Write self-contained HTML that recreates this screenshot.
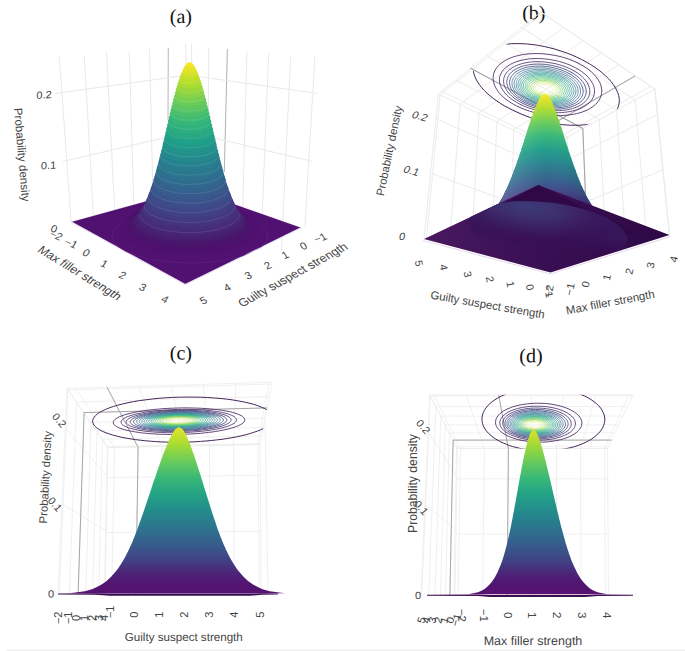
<!DOCTYPE html>
<html><head><meta charset="utf-8"><style>html,body{margin:0;padding:0;background:#fff}svg{display:block}</style></head><body>
<svg width="685" height="651" viewBox="0 0 685 651">
<rect width="685" height="651" fill="#fff"/>
<text transform="translate(180.9,22.9) rotate(0.04)" font-family="Liberation Serif" font-size="20" text-anchor="middle" fill="#111" >(a)</text>
<line x1="59.3" y1="55.8" x2="71.1" y2="222.0" stroke="#e9e9e9" stroke-width="1" />
<line x1="84.3" y1="55.8" x2="93.4" y2="216.0" stroke="#e9e9e9" stroke-width="1" />
<line x1="106.5" y1="52.0" x2="114.7" y2="210.0" stroke="#e9e9e9" stroke-width="1" />
<line x1="129.3" y1="52.0" x2="133.8" y2="204.6" stroke="#e9e9e9" stroke-width="1" />
<line x1="149.5" y1="48.0" x2="153.0" y2="200.0" stroke="#e9e9e9" stroke-width="1" />
<line x1="185.6" y1="44.0" x2="190.0" y2="190.0" stroke="#e9e9e9" stroke-width="1" />
<line x1="191.5" y1="44.0" x2="193.0" y2="190.0" stroke="#e9e9e9" stroke-width="1" />
<line x1="208.6" y1="47.8" x2="208.3" y2="196.0" stroke="#e9e9e9" stroke-width="1" />
<line x1="247.0" y1="51.7" x2="241.5" y2="250.0" stroke="#e9e9e9" stroke-width="1" />
<line x1="268.7" y1="53.0" x2="260.7" y2="250.0" stroke="#e9e9e9" stroke-width="1" />
<line x1="290.6" y1="56.2" x2="281.5" y2="250.0" stroke="#e9e9e9" stroke-width="1" />
<line x1="314.9" y1="57.0" x2="304.8" y2="227.0" stroke="#e9e9e9" stroke-width="1" />
<line x1="168.3" y1="47.8" x2="168.0" y2="120.0" stroke="#b8b8b8" stroke-width="1" />
<line x1="227.4" y1="49.0" x2="224.3" y2="172.0" stroke="#b0b0b0" stroke-width="1" />
<line x1="55.2" y1="93.5" x2="188.0" y2="75.0" stroke="#e9e9e9" stroke-width="1" />
<line x1="188.0" y1="75.0" x2="317.5" y2="93.5" stroke="#e9e9e9" stroke-width="1" />
<line x1="63.0" y1="161.4" x2="189.0" y2="132.0" stroke="#e9e9e9" stroke-width="1" />
<line x1="189.0" y1="132.0" x2="312.3" y2="161.4" stroke="#e9e9e9" stroke-width="1" />
<line x1="71.4" y1="222.0" x2="191.0" y2="189.0" stroke="#e6d8ec" stroke-width="1" />
<line x1="191.0" y1="189.0" x2="301.0" y2="227.8" stroke="#e6d8ec" stroke-width="1" />
<polygon points="71.4,222.0 191.0,189.0 301.0,227.8 185.2,284.6" fill="#501171" />
<path d="M71.4,222 L185.2,284.6 L301,227.8" fill="none" stroke="#eadff0" stroke-width="1.2"/>
<clipPath id="cfa"><polygon points="71.4,222 191,189 301,227.8 185.2,284.6"/></clipPath>
<ellipse cx="190" cy="236" rx="78" ry="27" fill="none" stroke="#5a1c7c" stroke-width="1" clip-path="url(#cfa)"/>
<ellipse cx="189.6" cy="229.0" rx="69.3" ry="25.6" fill="#501171"/>
<ellipse cx="189.6" cy="228.7" rx="68.4" ry="25.3" fill="#501171"/>
<ellipse cx="189.6" cy="228.5" rx="67.6" ry="24.9" fill="#4f1170"/>
<ellipse cx="189.6" cy="228.2" rx="66.7" ry="24.6" fill="#4f1170"/>
<ellipse cx="189.6" cy="227.9" rx="65.8" ry="24.3" fill="#4f116f"/>
<ellipse cx="189.6" cy="227.5" rx="65.0" ry="24.0" fill="#4e116e"/>
<ellipse cx="189.6" cy="227.2" rx="64.1" ry="23.7" fill="#4e116e"/>
<ellipse cx="189.6" cy="226.8" rx="63.2" ry="23.3" fill="#4d116d"/>
<ellipse cx="189.6" cy="226.3" rx="62.4" ry="23.0" fill="#4d126d"/>
<ellipse cx="189.6" cy="225.8" rx="61.5" ry="22.7" fill="#4c126d"/>
<ellipse cx="189.6" cy="225.3" rx="60.6" ry="22.4" fill="#4c136c"/>
<ellipse cx="189.6" cy="224.7" rx="59.8" ry="22.1" fill="#4b136c"/>
<ellipse cx="189.6" cy="224.1" rx="58.9" ry="21.7" fill="#4a146c"/>
<ellipse cx="189.6" cy="223.4" rx="58.0" ry="21.4" fill="#4a166c"/>
<ellipse cx="189.6" cy="222.7" rx="57.2" ry="21.1" fill="#49176c"/>
<ellipse cx="189.6" cy="221.9" rx="56.3" ry="20.8" fill="#481a6d"/>
<ellipse cx="189.6" cy="221.1" rx="55.4" ry="20.5" fill="#471c6e"/>
<ellipse cx="189.6" cy="220.2" rx="54.6" ry="20.1" fill="#471f6f"/>
<ellipse cx="189.6" cy="219.2" rx="53.7" ry="19.8" fill="#472071"/>
<ellipse cx="189.6" cy="218.1" rx="52.8" ry="19.5" fill="#472273"/>
<ellipse cx="189.6" cy="217.0" rx="52.0" ry="19.2" fill="#482575"/>
<ellipse cx="189.6" cy="215.8" rx="51.1" ry="18.9" fill="#482777"/>
<ellipse cx="189.6" cy="214.5" rx="50.2" ry="18.5" fill="#482979"/>
<ellipse cx="189.6" cy="213.2" rx="49.4" ry="18.2" fill="#472c7a"/>
<ellipse cx="189.6" cy="211.7" rx="48.5" ry="17.9" fill="#462e7b"/>
<ellipse cx="189.6" cy="210.2" rx="47.6" ry="17.6" fill="#45317c"/>
<ellipse cx="189.6" cy="208.5" rx="46.8" ry="17.3" fill="#45337e"/>
<ellipse cx="189.6" cy="206.8" rx="45.9" ry="16.9" fill="#44367f"/>
<ellipse cx="189.6" cy="205.0" rx="45.0" ry="16.6" fill="#433981"/>
<ellipse cx="189.6" cy="203.1" rx="44.2" ry="16.3" fill="#423d82"/>
<ellipse cx="189.6" cy="201.1" rx="43.3" ry="16.0" fill="#414084"/>
<ellipse cx="189.6" cy="198.9" rx="42.4" ry="15.7" fill="#404486"/>
<ellipse cx="189.6" cy="196.7" rx="41.6" ry="15.3" fill="#3f4788"/>
<ellipse cx="189.6" cy="194.4" rx="40.7" ry="15.0" fill="#3d4b89"/>
<ellipse cx="189.6" cy="192.0" rx="39.8" ry="14.7" fill="#3c4f8a"/>
<ellipse cx="189.6" cy="189.4" rx="39.0" ry="14.4" fill="#3a538a"/>
<ellipse cx="189.6" cy="186.8" rx="38.1" ry="14.1" fill="#38578b"/>
<ellipse cx="189.6" cy="184.0" rx="37.2" ry="13.7" fill="#375b8c"/>
<ellipse cx="189.6" cy="181.2" rx="36.4" ry="13.4" fill="#355f8d"/>
<ellipse cx="189.6" cy="178.3" rx="35.5" ry="13.1" fill="#33648d"/>
<ellipse cx="189.6" cy="175.2" rx="34.6" ry="12.8" fill="#31688e"/>
<ellipse cx="189.6" cy="172.1" rx="33.8" ry="12.5" fill="#2f6c8e"/>
<ellipse cx="189.6" cy="168.9" rx="32.9" ry="12.1" fill="#2d718e"/>
<ellipse cx="189.6" cy="165.6" rx="32.1" ry="11.8" fill="#2b758e"/>
<ellipse cx="189.6" cy="162.2" rx="31.2" ry="11.5" fill="#2a7a8e"/>
<ellipse cx="189.6" cy="158.7" rx="30.3" ry="11.2" fill="#287e8e"/>
<ellipse cx="189.6" cy="155.2" rx="29.5" ry="10.9" fill="#26838e"/>
<ellipse cx="189.6" cy="151.6" rx="28.6" ry="10.6" fill="#24888d"/>
<ellipse cx="189.6" cy="148.0" rx="27.7" ry="10.2" fill="#238e8c"/>
<ellipse cx="189.6" cy="144.3" rx="26.9" ry="9.9" fill="#22938b"/>
<ellipse cx="189.6" cy="140.5" rx="26.0" ry="9.6" fill="#20988a"/>
<ellipse cx="189.6" cy="136.8" rx="25.1" ry="9.3" fill="#1f9e89"/>
<ellipse cx="189.6" cy="133.0" rx="24.3" ry="9.0" fill="#23a386"/>
<ellipse cx="189.6" cy="129.2" rx="23.4" ry="8.6" fill="#28a883"/>
<ellipse cx="189.6" cy="125.4" rx="22.5" ry="8.3" fill="#2cad7f"/>
<ellipse cx="189.6" cy="121.6" rx="21.7" ry="8.0" fill="#31b27c"/>
<ellipse cx="189.6" cy="117.8" rx="20.8" ry="7.7" fill="#35b779"/>
<ellipse cx="189.6" cy="114.1" rx="19.9" ry="7.4" fill="#40bb73"/>
<ellipse cx="189.6" cy="110.4" rx="19.1" ry="7.0" fill="#4bc06c"/>
<ellipse cx="189.6" cy="106.8" rx="18.2" ry="6.7" fill="#56c466"/>
<ellipse cx="189.6" cy="103.2" rx="17.3" ry="6.4" fill="#61c860"/>
<ellipse cx="189.6" cy="99.7" rx="16.5" ry="6.1" fill="#6bcc5a"/>
<ellipse cx="189.6" cy="96.3" rx="15.6" ry="5.8" fill="#78d052"/>
<ellipse cx="189.6" cy="93.0" rx="14.7" ry="5.4" fill="#84d34a"/>
<ellipse cx="189.6" cy="89.8" rx="13.9" ry="5.1" fill="#91d642"/>
<ellipse cx="189.6" cy="86.8" rx="13.0" ry="4.8" fill="#9cd83b"/>
<ellipse cx="189.6" cy="83.8" rx="12.1" ry="4.5" fill="#a8db34"/>
<ellipse cx="189.6" cy="81.1" rx="11.3" ry="4.2" fill="#b2de2d"/>
<ellipse cx="189.6" cy="78.5" rx="10.4" ry="3.8" fill="#bddf2b"/>
<ellipse cx="189.6" cy="76.0" rx="9.5" ry="3.5" fill="#c7e02a"/>
<ellipse cx="189.6" cy="73.8" rx="8.7" ry="3.2" fill="#d0e129"/>
<ellipse cx="189.6" cy="71.7" rx="7.8" ry="2.9" fill="#d8e229"/>
<ellipse cx="189.6" cy="69.8" rx="6.9" ry="2.6" fill="#e0e328"/>
<ellipse cx="189.6" cy="68.1" rx="6.1" ry="2.2" fill="#e6e427"/>
<ellipse cx="189.6" cy="66.6" rx="5.2" ry="1.9" fill="#ece527"/>
<ellipse cx="189.6" cy="65.4" rx="4.3" ry="1.6" fill="#f1e626"/>
<ellipse cx="189.6" cy="64.4" rx="3.5" ry="1.3" fill="#f6e626"/>
<ellipse cx="189.6" cy="63.5" rx="2.6" ry="1.0" fill="#f9e625"/>
<ellipse cx="189.6" cy="63.0" rx="1.7" ry="0.6" fill="#fbe725"/>
<ellipse cx="189.6" cy="62.6" rx="0.9" ry="0.3" fill="#fde725"/>
<ellipse cx="189.6" cy="62.5" rx="0.5" ry="0.3" fill="#fde725"/>
<path d="M139.6,214.2 A50.0,18.5 0 0 0 239.6,214.2" fill="none" stroke="#fff" stroke-opacity="0.13" stroke-width="0.8"/>
<path d="M144.2,205.7 A45.4,16.8 0 0 0 235.0,205.7" fill="none" stroke="#fff" stroke-opacity="0.13" stroke-width="0.8"/>
<path d="M147.8,197.3 A41.8,15.4 0 0 0 231.4,197.3" fill="none" stroke="#fff" stroke-opacity="0.13" stroke-width="0.8"/>
<path d="M150.8,188.9 A38.8,14.3 0 0 0 228.4,188.9" fill="none" stroke="#fff" stroke-opacity="0.13" stroke-width="0.8"/>
<path d="M153.4,180.4 A36.2,13.3 0 0 0 225.8,180.4" fill="none" stroke="#fff" stroke-opacity="0.13" stroke-width="0.8"/>
<path d="M155.8,172.0 A33.8,12.5 0 0 0 223.4,172.0" fill="none" stroke="#fff" stroke-opacity="0.13" stroke-width="0.8"/>
<path d="M158.1,163.6 A31.5,11.6 0 0 0 221.1,163.6" fill="none" stroke="#fff" stroke-opacity="0.13" stroke-width="0.8"/>
<path d="M160.2,155.2 A29.4,10.9 0 0 0 219.0,155.2" fill="none" stroke="#fff" stroke-opacity="0.13" stroke-width="0.8"/>
<path d="M162.2,146.8 A27.4,10.1 0 0 0 217.0,146.8" fill="none" stroke="#fff" stroke-opacity="0.13" stroke-width="0.8"/>
<path d="M164.1,138.3 A25.5,9.4 0 0 0 215.1,138.3" fill="none" stroke="#fff" stroke-opacity="0.13" stroke-width="0.8"/>
<path d="M166.0,129.9 A23.6,8.7 0 0 0 213.2,129.9" fill="none" stroke="#fff" stroke-opacity="0.13" stroke-width="0.8"/>
<path d="M168.0,121.5 A21.6,8.0 0 0 0 211.2,121.5" fill="none" stroke="#fff" stroke-opacity="0.13" stroke-width="0.8"/>
<path d="M169.9,113.0 A19.7,7.3 0 0 0 209.3,113.0" fill="none" stroke="#fff" stroke-opacity="0.13" stroke-width="0.8"/>
<path d="M171.9,104.6 A17.7,6.5 0 0 0 207.3,104.6" fill="none" stroke="#fff" stroke-opacity="0.13" stroke-width="0.8"/>
<path d="M174.0,96.2 A15.6,5.7 0 0 0 205.2,96.2" fill="none" stroke="#fff" stroke-opacity="0.13" stroke-width="0.8"/>
<path d="M176.3,87.8 A13.3,4.9 0 0 0 202.9,87.8" fill="none" stroke="#fff" stroke-opacity="0.13" stroke-width="0.8"/>
<path d="M178.9,79.3 A10.7,3.9 0 0 0 200.3,79.3" fill="none" stroke="#fff" stroke-opacity="0.13" stroke-width="0.8"/>
<path d="M182.1,70.9 A7.5,2.8 0 0 0 197.1,70.9" fill="none" stroke="#fff" stroke-opacity="0.13" stroke-width="0.8"/>
<text transform="translate(44.0,98.5) rotate(-4) skewX(-6) scale(1.05,1)" font-family="Liberation Sans" font-size="10.5" text-anchor="middle" fill="#444" >0.2</text>
<text transform="translate(48.5,169.0) rotate(-4) skewX(-6) scale(1.05,1)" font-family="Liberation Sans" font-size="10.5" text-anchor="middle" fill="#444" >0.1</text>
<text transform="translate(52.5,232.0) rotate(25) scale(1.05,1)" font-family="Liberation Sans" font-size="10.5" text-anchor="middle" fill="#444" >0</text>
<text transform="translate(54.2,238.5) rotate(22) skewX(-10) scale(1.05,1)" font-family="Liberation Sans" font-size="10.5" text-anchor="middle" fill="#444" >−2</text>
<text transform="translate(69.2,246.5) rotate(22) skewX(-10) scale(1.05,1)" font-family="Liberation Sans" font-size="10.5" text-anchor="middle" fill="#444" >−1</text>
<text transform="translate(84.4,256.0) rotate(22) skewX(-10) scale(1.05,1)" font-family="Liberation Sans" font-size="10.5" text-anchor="middle" fill="#444" >0</text>
<text transform="translate(102.3,267.0) rotate(22) skewX(-10) scale(1.05,1)" font-family="Liberation Sans" font-size="10.5" text-anchor="middle" fill="#444" >1</text>
<text transform="translate(120.7,278.5) rotate(22) skewX(-10) scale(1.05,1)" font-family="Liberation Sans" font-size="10.5" text-anchor="middle" fill="#444" >2</text>
<text transform="translate(140.9,290.5) rotate(22) skewX(-10) scale(1.05,1)" font-family="Liberation Sans" font-size="10.5" text-anchor="middle" fill="#444" >3</text>
<text transform="translate(163.2,302.5) rotate(22) skewX(-10) scale(1.05,1)" font-family="Liberation Sans" font-size="10.5" text-anchor="middle" fill="#444" >4</text>
<text transform="translate(205.4,303.5) rotate(-22) skewX(10) scale(1.05,1)" font-family="Liberation Sans" font-size="10.5" text-anchor="middle" fill="#444" >5</text>
<text transform="translate(229.2,290.5) rotate(-22) skewX(10) scale(1.05,1)" font-family="Liberation Sans" font-size="10.5" text-anchor="middle" fill="#444" >4</text>
<text transform="translate(250.2,278.5) rotate(-22) skewX(10) scale(1.05,1)" font-family="Liberation Sans" font-size="10.5" text-anchor="middle" fill="#444" >3</text>
<text transform="translate(269.5,268.5) rotate(-22) skewX(10) scale(1.05,1)" font-family="Liberation Sans" font-size="10.5" text-anchor="middle" fill="#444" >2</text>
<text transform="translate(287.2,258.0) rotate(-22) skewX(10) scale(1.05,1)" font-family="Liberation Sans" font-size="10.5" text-anchor="middle" fill="#444" >1</text>
<text transform="translate(305.3,249.0) rotate(-22) skewX(10) scale(1.05,1)" font-family="Liberation Sans" font-size="10.5" text-anchor="middle" fill="#444" >0</text>
<text transform="translate(322.2,241.0) rotate(-22) skewX(10) scale(1.05,1)" font-family="Liberation Sans" font-size="10.5" text-anchor="middle" fill="#444" >−1</text>
<text transform="translate(77.0,276.0) rotate(31.7) skewX(-12)" font-family="Liberation Sans" font-size="12" text-anchor="middle" fill="#444" >Max filler strength</text>
<text transform="translate(295.5,278.0) rotate(-29) skewX(12)" font-family="Liberation Sans" font-size="12" text-anchor="middle" fill="#444" >Guilty suspect strength</text>
<text transform="translate(18.0,155.0) rotate(85)" font-family="Liberation Sans" font-size="11.6" text-anchor="middle" fill="#444" >Probability density</text>
<text transform="translate(533.8,19.3) rotate(0.04)" font-family="Liberation Serif" font-size="20" text-anchor="middle" fill="#111" >(b)</text>
<line x1="545.9" y1="271.3" x2="544.7" y2="145.2" stroke="#ebebeb" stroke-width="1" />
<line x1="528.9" y1="266.8" x2="529.6" y2="137.9" stroke="#ebebeb" stroke-width="1" />
<line x1="510.8" y1="262.0" x2="513.6" y2="130.2" stroke="#ebebeb" stroke-width="1" />
<line x1="491.6" y1="256.9" x2="496.8" y2="122.1" stroke="#ebebeb" stroke-width="1" />
<line x1="471.2" y1="251.5" x2="479.0" y2="113.6" stroke="#ebebeb" stroke-width="1" />
<line x1="449.4" y1="245.7" x2="460.2" y2="104.5" stroke="#ebebeb" stroke-width="1" />
<line x1="426.2" y1="239.6" x2="440.2" y2="94.9" stroke="#ebebeb" stroke-width="1" />
<line x1="550.5" y1="272.5" x2="548.8" y2="147.2" stroke="#ebebeb" stroke-width="1" />
<line x1="424.0" y1="239.0" x2="438.4" y2="94.0" stroke="#ebebeb" stroke-width="1" />
<line x1="549.7" y1="216.3" x2="430.5" y2="173.1" stroke="#ebebeb" stroke-width="1" />
<line x1="549.1" y1="168.9" x2="436.0" y2="118.6" stroke="#ebebeb" stroke-width="1" />
<line x1="548.8" y1="147.2" x2="438.4" y2="94.0" stroke="#ebebeb" stroke-width="1" />
<line x1="554.4" y1="271.3" x2="552.4" y2="145.2" stroke="#ebebeb" stroke-width="1" />
<line x1="570.8" y1="266.1" x2="567.2" y2="137.2" stroke="#ebebeb" stroke-width="1" />
<line x1="588.1" y1="260.7" x2="582.8" y2="128.6" stroke="#ebebeb" stroke-width="1" />
<line x1="606.5" y1="254.8" x2="599.2" y2="119.6" stroke="#ebebeb" stroke-width="1" />
<line x1="626.1" y1="248.7" x2="616.7" y2="110.1" stroke="#ebebeb" stroke-width="1" />
<line x1="647.1" y1="242.1" x2="635.2" y2="100.0" stroke="#ebebeb" stroke-width="1" />
<line x1="669.5" y1="235.0" x2="654.9" y2="89.2" stroke="#ebebeb" stroke-width="1" />
<line x1="669.5" y1="235.0" x2="654.9" y2="89.2" stroke="#ebebeb" stroke-width="1" />
<line x1="549.7" y1="217.0" x2="663.0" y2="169.8" stroke="#ebebeb" stroke-width="1" />
<line x1="549.1" y1="169.3" x2="657.4" y2="114.5" stroke="#ebebeb" stroke-width="1" />
<line x1="548.8" y1="147.2" x2="654.9" y2="89.2" stroke="#ebebeb" stroke-width="1" />
<line x1="544.6" y1="145.2" x2="650.7" y2="86.4" stroke="#ebebeb" stroke-width="1" />
<line x1="529.2" y1="137.8" x2="635.2" y2="75.9" stroke="#ebebeb" stroke-width="1" />
<line x1="513.1" y1="130.0" x2="618.9" y2="64.8" stroke="#ebebeb" stroke-width="1" />
<line x1="496.2" y1="121.8" x2="601.5" y2="53.0" stroke="#ebebeb" stroke-width="1" />
<line x1="478.5" y1="113.3" x2="583.2" y2="40.6" stroke="#ebebeb" stroke-width="1" />
<line x1="459.8" y1="104.3" x2="563.7" y2="27.4" stroke="#ebebeb" stroke-width="1" />
<line x1="440.2" y1="94.9" x2="542.9" y2="13.3" stroke="#ebebeb" stroke-width="1" />
<line x1="438.4" y1="94.0" x2="541.0" y2="12.0" stroke="#ebebeb" stroke-width="1" />
<line x1="552.4" y1="145.2" x2="441.8" y2="91.3" stroke="#ebebeb" stroke-width="1" />
<line x1="567.2" y1="137.1" x2="455.8" y2="80.1" stroke="#ebebeb" stroke-width="1" />
<line x1="582.9" y1="128.6" x2="470.6" y2="68.2" stroke="#ebebeb" stroke-width="1" />
<line x1="599.4" y1="119.6" x2="486.5" y2="55.6" stroke="#ebebeb" stroke-width="1" />
<line x1="616.8" y1="110.0" x2="503.4" y2="42.0" stroke="#ebebeb" stroke-width="1" />
<line x1="635.3" y1="99.9" x2="521.5" y2="27.5" stroke="#ebebeb" stroke-width="1" />
<line x1="654.9" y1="89.2" x2="541.0" y2="12.0" stroke="#ebebeb" stroke-width="1" />
<line x1="654.9" y1="89.2" x2="541.0" y2="12.0" stroke="#ebebeb" stroke-width="1" />
<line x1="529.2" y1="137.8" x2="635.2" y2="75.9" stroke="#a4a4a4" stroke-width="1.1" />
<line x1="582.9" y1="128.6" x2="470.6" y2="68.2" stroke="#a4a4a4" stroke-width="1.1" />
<line x1="588.1" y1="260.7" x2="582.8" y2="128.6" stroke="#a4a4a4" stroke-width="1.1" />
<line x1="528.9" y1="266.8" x2="529.6" y2="137.9" stroke="#a4a4a4" stroke-width="1.1" />
<clipPath id="ccb"><polygon points="441.4,96.5 544,14.5 654.9,89.2 549.8,144.2 441.4,96.5"/></clipPath>
<path d="M480.8,53.2 L483.4,51.3 L486.4,49.6 L489.8,48.0 L493.6,46.7 L497.7,45.6 L502.0,44.7 L506.7,44.1 L511.6,43.7 L516.7,43.6 L522.0,43.7 L527.4,44.0 L532.9,44.6 L538.5,45.4 L544.2,46.5 L549.8,47.8 L555.4,49.3 L560.9,51.0 L566.4,52.9 L571.6,54.9 L576.7,57.1 L581.6,59.5 L586.3,62.0 L590.7,64.6 L594.9,67.3 L598.7,70.0 L602.3,72.9 L605.5,75.7 L608.4,78.6 L611.0,81.5 L613.2,84.4 L615.1,87.2 L616.6,90.1 L617.8,92.8 L618.7,95.6 L619.2,98.2 L619.3,100.8 L619.1,103.2 L618.6,105.6 L617.8,107.9 L616.7,110.0 L615.3,112.0 L613.6,113.9 L611.6,115.7 L609.4,117.3 L606.9,118.8 L604.2,120.1 L601.2,121.3 L598.1,122.4 L594.7,123.2 L591.2,124.0 L587.5,124.5 L583.6,124.9 L579.6,125.2 L575.5,125.3 L571.2,125.2 L566.9,125.0 L562.5,124.6 L558.0,124.0 L553.4,123.3 L548.8,122.4 L544.2,121.4 L539.6,120.3 L534.9,118.9 L530.4,117.5 L525.8,115.9 L521.3,114.1 L517.0,112.2 L512.7,110.2 L508.5,108.1 L504.4,105.9 L500.6,103.5 L496.9,101.0 L493.4,98.5 L490.1,95.9 L487.0,93.2 L484.2,90.4 L481.7,87.6 L479.5,84.8 L477.5,81.9 L476.0,79.0 L474.7,76.1 L473.8,73.3 L473.3,70.5 L473.2,67.7 L473.4,65.0 L474.1,62.4 L475.2,59.9 L476.6,57.5 L478.5,55.3Z" fill="none" stroke="#462557" stroke-width="1.0" clip-path="url(#ccb)"/>
<path d="M501.6,62.9 L503.9,61.3 L506.4,59.8 L509.2,58.5 L512.2,57.3 L515.4,56.3 L518.8,55.4 L522.3,54.7 L526.0,54.1 L529.9,53.8 L533.8,53.6 L537.8,53.6 L541.9,53.7 L546.0,54.1 L550.1,54.6 L554.2,55.3 L558.3,56.1 L562.3,57.1 L566.1,58.3 L569.9,59.6 L573.5,61.0 L577.0,62.6 L580.3,64.3 L583.4,66.0 L586.3,67.9 L589.0,69.9 L591.4,71.9 L593.6,74.0 L595.5,76.1 L597.2,78.3 L598.6,80.4 L599.8,82.6 L600.7,84.8 L601.3,87.0 L601.7,89.1 L601.8,91.2 L601.6,93.3 L601.2,95.3 L600.6,97.2 L599.7,99.1 L598.5,100.9 L597.2,102.7 L595.6,104.3 L593.9,105.8 L591.9,107.3 L589.7,108.6 L587.4,109.9 L584.9,111.0 L582.3,112.0 L579.5,112.9 L576.6,113.6 L573.6,114.3 L570.4,114.8 L567.2,115.2 L563.9,115.4 L560.6,115.6 L557.2,115.6 L553.7,115.5 L550.2,115.2 L546.7,114.8 L543.2,114.3 L539.7,113.7 L536.3,112.9 L532.9,112.1 L529.5,111.1 L526.2,110.0 L523.0,108.8 L519.8,107.4 L516.8,106.0 L513.9,104.5 L511.2,102.9 L508.5,101.2 L506.1,99.4 L503.8,97.5 L501.7,95.6 L499.8,93.6 L498.1,91.5 L496.7,89.4 L495.5,87.3 L494.5,85.1 L493.8,82.9 L493.3,80.8 L493.1,78.6 L493.2,76.5 L493.5,74.3 L494.2,72.2 L495.1,70.2 L496.3,68.3 L497.8,66.4 L499.5,64.6Z" fill="none" stroke="#472360" stroke-width="0.85" clip-path="url(#ccb)"/>
<path d="M507.0,66.5 L509.0,65.2 L511.2,63.9 L513.6,62.8 L516.2,61.7 L519.0,60.9 L522.0,60.1 L525.1,59.5 L528.3,59.0 L531.6,58.7 L535.0,58.5 L538.5,58.5 L542.1,58.7 L545.6,59.0 L549.2,59.4 L552.7,60.0 L556.2,60.7 L559.7,61.6 L563.1,62.6 L566.3,63.7 L569.5,64.9 L572.5,66.3 L575.4,67.7 L578.1,69.3 L580.7,70.9 L583.0,72.6 L585.2,74.3 L587.1,76.1 L588.8,78.0 L590.3,79.8 L591.6,81.7 L592.7,83.6 L593.5,85.5 L594.1,87.4 L594.4,89.3 L594.5,91.1 L594.4,93.0 L594.1,94.7 L593.6,96.4 L592.8,98.1 L591.9,99.7 L590.7,101.2 L589.3,102.7 L587.8,104.0 L586.1,105.3 L584.2,106.5 L582.2,107.6 L580.0,108.6 L577.7,109.5 L575.2,110.3 L572.7,110.9 L570.0,111.5 L567.2,112.0 L564.4,112.3 L561.5,112.6 L558.5,112.7 L555.5,112.7 L552.5,112.6 L549.4,112.3 L546.3,112.0 L543.2,111.6 L540.1,111.0 L537.1,110.3 L534.0,109.6 L531.1,108.7 L528.2,107.7 L525.3,106.6 L522.6,105.5 L519.9,104.2 L517.4,102.8 L515.0,101.4 L512.7,99.9 L510.5,98.3 L508.5,96.7 L506.7,95.0 L505.1,93.2 L503.7,91.4 L502.4,89.6 L501.4,87.7 L500.5,85.8 L499.9,83.9 L499.6,82.0 L499.4,80.1 L499.5,78.3 L499.9,76.4 L500.5,74.6 L501.3,72.8 L502.4,71.2 L503.7,69.5 L505.2,68.0Z" fill="none" stroke="#482f6a" stroke-width="0.85" clip-path="url(#ccb)"/>
<path d="M510.6,68.8 L512.4,67.6 L514.4,66.5 L516.6,65.5 L518.9,64.6 L521.5,63.8 L524.1,63.1 L526.9,62.5 L529.8,62.1 L532.8,61.8 L535.9,61.7 L539.0,61.7 L542.2,61.8 L545.4,62.1 L548.6,62.5 L551.8,63.0 L555.0,63.6 L558.1,64.4 L561.1,65.3 L564.1,66.3 L566.9,67.4 L569.7,68.6 L572.3,69.9 L574.8,71.3 L577.1,72.8 L579.2,74.3 L581.2,75.8 L582.9,77.5 L584.5,79.1 L585.9,80.8 L587.1,82.5 L588.0,84.2 L588.8,86.0 L589.3,87.7 L589.7,89.4 L589.8,91.1 L589.8,92.7 L589.5,94.3 L589.0,95.9 L588.3,97.4 L587.5,98.8 L586.4,100.2 L585.2,101.6 L583.8,102.8 L582.3,104.0 L580.6,105.1 L578.7,106.1 L576.8,107.0 L574.7,107.8 L572.4,108.5 L570.1,109.1 L567.7,109.7 L565.2,110.1 L562.6,110.4 L559.9,110.6 L557.2,110.7 L554.5,110.7 L551.7,110.6 L548.9,110.4 L546.0,110.1 L543.2,109.7 L540.4,109.2 L537.6,108.6 L534.9,107.9 L532.2,107.1 L529.5,106.2 L526.9,105.2 L524.4,104.1 L522.0,102.9 L519.7,101.7 L517.5,100.4 L515.4,99.0 L513.5,97.6 L511.7,96.1 L510.1,94.5 L508.6,92.9 L507.3,91.3 L506.2,89.6 L505.3,87.9 L504.5,86.2 L504.0,84.5 L503.7,82.8 L503.6,81.1 L503.7,79.4 L504.0,77.7 L504.6,76.1 L505.3,74.5 L506.3,73.0 L507.5,71.5 L508.9,70.1Z" fill="none" stroke="#463971" stroke-width="0.85" clip-path="url(#ccb)"/>
<path d="M513.3,70.6 L515.0,69.5 L516.8,68.5 L518.9,67.5 L521.0,66.7 L523.3,66.0 L525.8,65.4 L528.3,64.9 L531.0,64.5 L533.7,64.2 L536.5,64.1 L539.4,64.1 L542.3,64.2 L545.3,64.4 L548.2,64.8 L551.1,65.3 L554.0,65.9 L556.9,66.6 L559.7,67.4 L562.4,68.3 L565.0,69.3 L567.5,70.4 L569.9,71.6 L572.2,72.8 L574.3,74.2 L576.3,75.6 L578.1,77.0 L579.7,78.5 L581.2,80.0 L582.5,81.6 L583.6,83.1 L584.5,84.7 L585.2,86.3 L585.7,87.9 L586.1,89.4 L586.2,91.0 L586.1,92.5 L585.9,94.0 L585.5,95.4 L584.9,96.8 L584.1,98.2 L583.2,99.4 L582.0,100.7 L580.8,101.8 L579.4,102.9 L577.8,103.9 L576.1,104.8 L574.3,105.7 L572.3,106.4 L570.3,107.1 L568.1,107.7 L565.9,108.2 L563.6,108.6 L561.2,108.9 L558.7,109.1 L556.2,109.2 L553.7,109.2 L551.1,109.1 L548.5,108.9 L545.9,108.6 L543.3,108.2 L540.7,107.8 L538.1,107.2 L535.5,106.5 L533.0,105.8 L530.6,104.9 L528.2,104.0 L525.9,103.0 L523.7,102.0 L521.6,100.8 L519.5,99.6 L517.6,98.3 L515.9,97.0 L514.2,95.6 L512.7,94.2 L511.4,92.7 L510.2,91.2 L509.2,89.7 L508.3,88.1 L507.7,86.5 L507.2,84.9 L506.9,83.4 L506.8,81.8 L506.9,80.3 L507.3,78.7 L507.8,77.2 L508.5,75.8 L509.4,74.4 L510.5,73.1 L511.8,71.8Z" fill="none" stroke="#434376" stroke-width="0.85" clip-path="url(#ccb)"/>
<path d="M515.6,72.1 L517.2,71.0 L518.9,70.1 L520.8,69.2 L522.8,68.5 L524.9,67.8 L527.2,67.2 L529.5,66.8 L532.0,66.4 L534.5,66.2 L537.1,66.1 L539.8,66.1 L542.5,66.2 L545.2,66.4 L547.9,66.7 L550.6,67.1 L553.3,67.7 L555.9,68.3 L558.5,69.1 L561.0,69.9 L563.4,70.9 L565.8,71.9 L568.0,73.0 L570.1,74.1 L572.0,75.4 L573.9,76.6 L575.6,78.0 L577.1,79.3 L578.5,80.7 L579.7,82.2 L580.7,83.6 L581.5,85.1 L582.2,86.6 L582.7,88.0 L583.0,89.5 L583.2,90.9 L583.1,92.3 L582.9,93.7 L582.5,95.0 L582.0,96.3 L581.3,97.6 L580.4,98.8 L579.4,99.9 L578.2,101.0 L576.9,102.0 L575.5,102.9 L573.9,103.8 L572.2,104.6 L570.4,105.3 L568.5,105.9 L566.5,106.5 L564.4,106.9 L562.2,107.3 L560.0,107.6 L557.7,107.8 L555.4,107.9 L553.0,107.9 L550.6,107.8 L548.2,107.6 L545.7,107.3 L543.3,107.0 L540.9,106.5 L538.5,106.0 L536.1,105.4 L533.8,104.7 L531.5,103.9 L529.3,103.1 L527.2,102.1 L525.1,101.1 L523.1,100.1 L521.3,98.9 L519.5,97.7 L517.8,96.5 L516.3,95.2 L514.9,93.9 L513.7,92.5 L512.6,91.1 L511.7,89.7 L510.9,88.2 L510.3,86.8 L509.9,85.3 L509.6,83.9 L509.6,82.4 L509.7,81.0 L510.0,79.6 L510.5,78.2 L511.1,76.8 L512.0,75.6 L513.0,74.3 L514.2,73.2Z" fill="none" stroke="#3b528a" stroke-width="0.85" clip-path="url(#ccb)"/>
<path d="M517.7,73.3 L519.1,72.4 L520.7,71.5 L522.4,70.7 L524.3,70.0 L526.3,69.4 L528.4,68.9 L530.6,68.4 L532.9,68.1 L535.2,67.9 L537.6,67.8 L540.1,67.8 L542.6,67.9 L545.1,68.1 L547.6,68.4 L550.1,68.8 L552.6,69.3 L555.1,69.9 L557.5,70.6 L559.8,71.3 L562.1,72.2 L564.2,73.1 L566.3,74.2 L568.2,75.2 L570.1,76.4 L571.8,77.6 L573.4,78.8 L574.8,80.1 L576.1,81.4 L577.2,82.7 L578.2,84.1 L579.0,85.4 L579.6,86.8 L580.1,88.1 L580.4,89.5 L580.5,90.8 L580.5,92.1 L580.3,93.4 L580.0,94.7 L579.5,95.9 L578.8,97.1 L578.0,98.2 L577.0,99.2 L576.0,100.3 L574.7,101.2 L573.4,102.1 L571.9,102.9 L570.4,103.6 L568.7,104.3 L566.9,104.9 L565.0,105.4 L563.1,105.8 L561.1,106.2 L559.0,106.4 L556.8,106.6 L554.7,106.7 L552.4,106.7 L550.2,106.6 L547.9,106.4 L545.6,106.2 L543.4,105.9 L541.1,105.4 L538.9,104.9 L536.7,104.4 L534.5,103.7 L532.4,103.0 L530.3,102.2 L528.3,101.3 L526.4,100.4 L524.5,99.4 L522.8,98.3 L521.1,97.2 L519.6,96.1 L518.2,94.8 L516.9,93.6 L515.8,92.3 L514.7,91.0 L513.9,89.7 L513.2,88.3 L512.6,87.0 L512.2,85.6 L512.0,84.3 L512.0,82.9 L512.1,81.6 L512.4,80.3 L512.8,79.0 L513.5,77.8 L514.3,76.6 L515.2,75.4 L516.4,74.3Z" fill="none" stroke="#355f8d" stroke-width="0.7" clip-path="url(#ccb)"/>
<path d="M519.5,74.4 L520.9,73.6 L522.3,72.7 L524.0,72.0 L525.7,71.4 L527.6,70.8 L529.5,70.3 L531.5,69.9 L533.7,69.6 L535.9,69.4 L538.1,69.3 L540.4,69.3 L542.7,69.4 L545.1,69.6 L547.4,69.9 L549.7,70.2 L552.0,70.7 L554.3,71.3 L556.6,71.9 L558.7,72.6 L560.8,73.4 L562.9,74.3 L564.8,75.2 L566.6,76.2 L568.3,77.3 L569.9,78.4 L571.4,79.5 L572.7,80.7 L573.9,81.9 L575.0,83.2 L575.9,84.4 L576.6,85.7 L577.3,87.0 L577.7,88.2 L578.0,89.5 L578.1,90.8 L578.1,92.0 L578.0,93.2 L577.6,94.4 L577.2,95.5 L576.6,96.6 L575.8,97.6 L574.9,98.6 L573.9,99.6 L572.8,100.5 L571.5,101.3 L570.2,102.0 L568.7,102.7 L567.1,103.4 L565.5,103.9 L563.7,104.4 L561.9,104.8 L560.0,105.1 L558.0,105.4 L556.0,105.5 L554.0,105.6 L551.9,105.6 L549.8,105.5 L547.7,105.4 L545.6,105.1 L543.4,104.8 L541.3,104.4 L539.2,104.0 L537.1,103.4 L535.1,102.8 L533.1,102.1 L531.2,101.4 L529.3,100.6 L527.5,99.7 L525.8,98.8 L524.2,97.8 L522.6,96.7 L521.2,95.6 L519.9,94.5 L518.7,93.3 L517.6,92.1 L516.7,90.9 L515.9,89.7 L515.2,88.4 L514.7,87.2 L514.4,85.9 L514.2,84.6 L514.1,83.4 L514.3,82.1 L514.5,80.9 L515.0,79.7 L515.6,78.6 L516.3,77.5 L517.2,76.4 L518.3,75.4Z" fill="none" stroke="#2f6c8e" stroke-width="0.7" clip-path="url(#ccb)"/>
<path d="M521.2,75.5 L522.5,74.7 L523.9,73.9 L525.4,73.2 L527.0,72.6 L528.7,72.1 L530.5,71.6 L532.4,71.3 L534.4,71.0 L536.5,70.8 L538.5,70.7 L540.7,70.7 L542.8,70.8 L545.0,71.0 L547.2,71.2 L549.4,71.6 L551.5,72.0 L553.6,72.5 L555.7,73.1 L557.8,73.8 L559.7,74.5 L561.6,75.3 L563.4,76.2 L565.1,77.1 L566.7,78.1 L568.2,79.1 L569.6,80.2 L570.8,81.3 L572.0,82.5 L572.9,83.6 L573.8,84.8 L574.5,86.0 L575.1,87.1 L575.5,88.3 L575.8,89.5 L575.9,90.7 L575.9,91.8 L575.8,92.9 L575.5,94.0 L575.1,95.1 L574.5,96.1 L573.8,97.1 L573.0,98.0 L572.0,98.9 L571.0,99.8 L569.8,100.5 L568.5,101.2 L567.2,101.9 L565.7,102.5 L564.1,103.0 L562.5,103.4 L560.8,103.8 L559.0,104.1 L557.2,104.4 L555.3,104.5 L553.4,104.6 L551.5,104.6 L549.5,104.5 L547.5,104.4 L545.5,104.2 L543.5,103.9 L541.5,103.5 L539.6,103.1 L537.6,102.5 L535.7,102.0 L533.8,101.3 L532.0,100.6 L530.3,99.9 L528.6,99.0 L527.0,98.2 L525.5,97.2 L524.1,96.3 L522.7,95.2 L521.5,94.2 L520.4,93.1 L519.4,92.0 L518.5,90.8 L517.8,89.7 L517.2,88.5 L516.7,87.3 L516.4,86.1 L516.2,85.0 L516.2,83.8 L516.3,82.6 L516.5,81.5 L517.0,80.4 L517.5,79.3 L518.2,78.3 L519.1,77.3 L520.1,76.4Z" fill="none" stroke="#2a788e" stroke-width="0.7" clip-path="url(#ccb)"/>
<path d="M522.8,76.4 L524.0,75.7 L525.3,75.0 L526.7,74.3 L528.2,73.8 L529.8,73.3 L531.5,72.9 L533.3,72.5 L535.1,72.3 L537.0,72.1 L539.0,72.0 L541.0,72.0 L543.0,72.1 L545.0,72.2 L547.0,72.5 L549.0,72.8 L551.0,73.2 L553.0,73.7 L555.0,74.2 L556.8,74.9 L558.7,75.6 L560.4,76.3 L562.1,77.1 L563.7,78.0 L565.2,78.9 L566.6,79.9 L567.9,80.8 L569.1,81.9 L570.1,82.9 L571.0,84.0 L571.8,85.1 L572.5,86.2 L573.0,87.3 L573.4,88.4 L573.7,89.5 L573.9,90.6 L573.9,91.7 L573.7,92.7 L573.5,93.7 L573.1,94.7 L572.5,95.7 L571.9,96.6 L571.1,97.5 L570.3,98.3 L569.3,99.1 L568.2,99.8 L567.0,100.5 L565.7,101.1 L564.3,101.6 L562.9,102.1 L561.3,102.6 L559.8,102.9 L558.1,103.2 L556.4,103.4 L554.6,103.6 L552.8,103.6 L551.0,103.6 L549.2,103.6 L547.3,103.4 L545.4,103.2 L543.6,102.9 L541.7,102.6 L539.9,102.2 L538.1,101.7 L536.3,101.2 L534.5,100.6 L532.9,99.9 L531.2,99.2 L529.7,98.4 L528.2,97.6 L526.7,96.7 L525.4,95.8 L524.2,94.9 L523.0,93.9 L522.0,92.9 L521.1,91.8 L520.3,90.8 L519.6,89.7 L519.0,88.6 L518.6,87.5 L518.3,86.4 L518.1,85.3 L518.1,84.2 L518.2,83.1 L518.4,82.0 L518.8,81.0 L519.4,80.0 L520.0,79.0 L520.8,78.1 L521.8,77.3Z" fill="none" stroke="#26848e" stroke-width="0.7" clip-path="url(#ccb)"/>
<path d="M524.4,77.4 L525.5,76.7 L526.7,76.0 L528.0,75.4 L529.4,74.9 L530.9,74.4 L532.5,74.1 L534.1,73.7 L535.8,73.5 L537.6,73.3 L539.4,73.3 L541.2,73.3 L543.1,73.3 L545.0,73.5 L546.9,73.7 L548.7,74.0 L550.6,74.4 L552.4,74.8 L554.2,75.3 L556.0,75.9 L557.7,76.5 L559.3,77.2 L560.9,78.0 L562.4,78.8 L563.8,79.6 L565.1,80.5 L566.3,81.4 L567.4,82.4 L568.3,83.4 L569.2,84.4 L570.0,85.4 L570.6,86.4 L571.1,87.5 L571.5,88.5 L571.7,89.5 L571.9,90.5 L571.9,91.5 L571.8,92.5 L571.5,93.5 L571.1,94.4 L570.7,95.3 L570.1,96.1 L569.4,97.0 L568.6,97.7 L567.6,98.5 L566.6,99.1 L565.5,99.8 L564.3,100.3 L563.0,100.8 L561.7,101.3 L560.3,101.7 L558.8,102.0 L557.2,102.3 L555.6,102.5 L554.0,102.6 L552.3,102.7 L550.6,102.7 L548.9,102.6 L547.1,102.5 L545.4,102.3 L543.7,102.1 L541.9,101.7 L540.2,101.3 L538.5,100.9 L536.8,100.4 L535.2,99.8 L533.6,99.2 L532.1,98.5 L530.7,97.8 L529.3,97.1 L527.9,96.2 L526.7,95.4 L525.5,94.5 L524.5,93.6 L523.5,92.6 L522.7,91.7 L521.9,90.7 L521.3,89.7 L520.8,88.6 L520.4,87.6 L520.1,86.6 L519.9,85.5 L519.9,84.5 L520.0,83.5 L520.3,82.6 L520.6,81.6 L521.1,80.7 L521.8,79.8 L522.5,78.9 L523.4,78.1Z" fill="none" stroke="#23908c" stroke-width="0.7" clip-path="url(#ccb)"/>
<path d="M525.9,78.2 L526.9,77.6 L528.0,77.0 L529.2,76.4 L530.5,76.0 L531.9,75.5 L533.4,75.2 L534.9,74.9 L536.5,74.7 L538.1,74.5 L539.8,74.5 L541.5,74.4 L543.2,74.5 L545.0,74.7 L546.7,74.9 L548.4,75.1 L550.2,75.5 L551.9,75.9 L553.5,76.4 L555.2,76.9 L556.7,77.5 L558.3,78.1 L559.7,78.8 L561.1,79.6 L562.4,80.4 L563.6,81.2 L564.7,82.0 L565.7,82.9 L566.6,83.8 L567.5,84.7 L568.2,85.7 L568.7,86.6 L569.2,87.6 L569.6,88.5 L569.8,89.5 L569.9,90.4 L570.0,91.4 L569.8,92.3 L569.6,93.2 L569.3,94.0 L568.9,94.9 L568.3,95.7 L567.6,96.4 L566.9,97.1 L566.0,97.8 L565.1,98.5 L564.1,99.0 L563.0,99.6 L561.8,100.0 L560.5,100.5 L559.2,100.8 L557.8,101.1 L556.4,101.4 L554.9,101.6 L553.4,101.7 L551.8,101.8 L550.2,101.8 L548.6,101.7 L547.0,101.6 L545.4,101.4 L543.7,101.2 L542.1,100.9 L540.5,100.5 L538.9,100.1 L537.4,99.6 L535.9,99.1 L534.4,98.5 L533.0,97.9 L531.6,97.2 L530.3,96.5 L529.1,95.8 L528.0,95.0 L526.9,94.1 L525.9,93.3 L525.0,92.4 L524.2,91.5 L523.5,90.6 L523.0,89.6 L522.5,88.7 L522.1,87.7 L521.9,86.8 L521.7,85.8 L521.7,84.9 L521.8,84.0 L522.1,83.0 L522.4,82.2 L522.9,81.3 L523.4,80.5 L524.1,79.7 L525.0,78.9Z" fill="none" stroke="#1f9c89" stroke-width="0.7" clip-path="url(#ccb)"/>
<path d="M527.3,79.1 L528.3,78.5 L529.3,77.9 L530.5,77.5 L531.7,77.0 L532.9,76.6 L534.3,76.3 L535.7,76.0 L537.1,75.8 L538.6,75.7 L540.2,75.6 L541.8,75.6 L543.4,75.7 L545.0,75.8 L546.6,76.0 L548.2,76.2 L549.8,76.6 L551.3,76.9 L552.9,77.4 L554.4,77.9 L555.8,78.4 L557.2,79.0 L558.6,79.6 L559.8,80.3 L561.0,81.0 L562.1,81.8 L563.2,82.6 L564.1,83.4 L565.0,84.2 L565.7,85.1 L566.4,86.0 L566.9,86.8 L567.4,87.7 L567.7,88.6 L567.9,89.5 L568.1,90.4 L568.1,91.2 L568.0,92.1 L567.8,92.9 L567.5,93.7 L567.1,94.4 L566.6,95.2 L566.0,95.9 L565.3,96.6 L564.5,97.2 L563.6,97.8 L562.7,98.3 L561.6,98.8 L560.5,99.3 L559.4,99.7 L558.1,100.0 L556.9,100.3 L555.5,100.5 L554.1,100.7 L552.7,100.8 L551.3,100.9 L549.8,100.9 L548.3,100.8 L546.8,100.7 L545.3,100.5 L543.8,100.3 L542.3,100.0 L540.8,99.7 L539.4,99.3 L538.0,98.9 L536.6,98.4 L535.2,97.9 L533.9,97.3 L532.6,96.6 L531.4,96.0 L530.3,95.3 L529.2,94.6 L528.2,93.8 L527.3,93.0 L526.5,92.2 L525.8,91.3 L525.2,90.5 L524.6,89.6 L524.2,88.7 L523.8,87.9 L523.6,87.0 L523.5,86.1 L523.5,85.2 L523.6,84.4 L523.8,83.5 L524.1,82.7 L524.6,81.9 L525.1,81.2 L525.8,80.4 L526.5,79.7Z" fill="none" stroke="#28a883" stroke-width="0.7" clip-path="url(#ccb)"/>
<path d="M528.8,80.0 L529.7,79.4 L530.6,78.9 L531.7,78.4 L532.8,78.0 L533.9,77.7 L535.2,77.4 L536.5,77.1 L537.8,77.0 L539.2,76.8 L540.6,76.8 L542.0,76.8 L543.5,76.8 L545.0,76.9 L546.4,77.1 L547.9,77.3 L549.4,77.6 L550.8,78.0 L552.2,78.4 L553.6,78.8 L554.9,79.3 L556.2,79.9 L557.4,80.4 L558.6,81.1 L559.7,81.7 L560.7,82.4 L561.7,83.1 L562.5,83.9 L563.3,84.7 L564.0,85.4 L564.6,86.2 L565.1,87.0 L565.5,87.9 L565.8,88.7 L566.1,89.5 L566.2,90.3 L566.2,91.1 L566.1,91.8 L565.9,92.6 L565.7,93.3 L565.3,94.0 L564.8,94.7 L564.3,95.4 L563.6,96.0 L562.9,96.6 L562.1,97.1 L561.2,97.6 L560.3,98.1 L559.3,98.5 L558.2,98.8 L557.1,99.1 L555.9,99.4 L554.7,99.6 L553.4,99.8 L552.1,99.9 L550.8,99.9 L549.4,99.9 L548.1,99.9 L546.7,99.8 L545.3,99.6 L543.9,99.4 L542.5,99.2 L541.2,98.9 L539.8,98.5 L538.5,98.1 L537.2,97.7 L536.0,97.2 L534.8,96.6 L533.6,96.1 L532.5,95.4 L531.5,94.8 L530.5,94.1 L529.6,93.4 L528.8,92.7 L528.0,91.9 L527.4,91.2 L526.8,90.4 L526.3,89.6 L525.9,88.8 L525.6,88.0 L525.4,87.2 L525.3,86.4 L525.3,85.6 L525.4,84.8 L525.6,84.0 L525.9,83.3 L526.3,82.5 L526.8,81.8 L527.4,81.2 L528.0,80.5Z" fill="none" stroke="#32b37b" stroke-width="0.7" clip-path="url(#ccb)"/>
<path d="M530.3,80.8 L531.1,80.3 L532.0,79.9 L532.9,79.4 L533.9,79.1 L535.0,78.8 L536.1,78.5 L537.3,78.3 L538.5,78.1 L539.7,78.0 L541.0,77.9 L542.3,77.9 L543.6,78.0 L545.0,78.1 L546.3,78.2 L547.6,78.4 L549.0,78.7 L550.3,79.0 L551.5,79.4 L552.8,79.8 L554.0,80.2 L555.2,80.7 L556.3,81.3 L557.3,81.8 L558.4,82.4 L559.3,83.0 L560.2,83.7 L560.9,84.4 L561.7,85.1 L562.3,85.8 L562.8,86.5 L563.3,87.2 L563.7,88.0 L564.0,88.7 L564.2,89.4 L564.3,90.2 L564.3,90.9 L564.2,91.6 L564.1,92.3 L563.8,93.0 L563.5,93.6 L563.1,94.2 L562.6,94.8 L562.0,95.4 L561.3,95.9 L560.6,96.4 L559.8,96.9 L559.0,97.3 L558.0,97.6 L557.1,98.0 L556.0,98.3 L555.0,98.5 L553.8,98.7 L552.7,98.9 L551.5,99.0 L550.3,99.0 L549.1,99.0 L547.8,99.0 L546.5,98.9 L545.3,98.7 L544.0,98.5 L542.8,98.3 L541.5,98.0 L540.3,97.7 L539.1,97.3 L537.9,96.9 L536.8,96.5 L535.7,96.0 L534.6,95.5 L533.6,94.9 L532.7,94.3 L531.8,93.7 L531.0,93.0 L530.2,92.4 L529.5,91.7 L528.9,91.0 L528.4,90.3 L528.0,89.6 L527.6,88.8 L527.3,88.1 L527.2,87.3 L527.1,86.6 L527.1,85.9 L527.2,85.2 L527.3,84.5 L527.6,83.8 L528.0,83.1 L528.4,82.5 L529.0,81.9 L529.6,81.3Z" fill="none" stroke="#46be6f" stroke-width="0.7" clip-path="url(#ccb)"/>
<path d="M531.9,81.7 L532.6,81.2 L533.3,80.8 L534.2,80.5 L535.1,80.1 L536.0,79.8 L537.0,79.6 L538.1,79.4 L539.2,79.3 L540.3,79.2 L541.4,79.1 L542.6,79.1 L543.8,79.1 L545.0,79.2 L546.2,79.4 L547.4,79.6 L548.6,79.8 L549.7,80.1 L550.9,80.4 L552.0,80.8 L553.1,81.2 L554.1,81.6 L555.1,82.1 L556.1,82.6 L557.0,83.1 L557.8,83.7 L558.6,84.3 L559.3,84.9 L560.0,85.5 L560.5,86.1 L561.0,86.8 L561.4,87.4 L561.8,88.1 L562.0,88.8 L562.2,89.4 L562.3,90.1 L562.4,90.7 L562.3,91.4 L562.2,92.0 L561.9,92.6 L561.6,93.2 L561.3,93.7 L560.8,94.3 L560.3,94.8 L559.7,95.2 L559.1,95.7 L558.4,96.1 L557.6,96.5 L556.8,96.8 L555.9,97.1 L554.9,97.4 L554.0,97.6 L553.0,97.8 L551.9,97.9 L550.9,98.0 L549.8,98.0 L548.7,98.0 L547.5,98.0 L546.4,97.9 L545.3,97.8 L544.1,97.6 L543.0,97.4 L541.9,97.1 L540.8,96.8 L539.7,96.5 L538.6,96.1 L537.6,95.7 L536.6,95.3 L535.7,94.8 L534.8,94.3 L533.9,93.8 L533.1,93.2 L532.4,92.7 L531.7,92.1 L531.1,91.4 L530.6,90.8 L530.1,90.2 L529.7,89.5 L529.4,88.9 L529.2,88.2 L529.0,87.5 L528.9,86.9 L528.9,86.2 L529.0,85.6 L529.2,85.0 L529.4,84.4 L529.8,83.8 L530.2,83.2 L530.7,82.7 L531.2,82.2Z" fill="none" stroke="#5fc761" stroke-width="0.7" clip-path="url(#ccb)"/>
<path d="M533.5,82.6 L534.1,82.2 L534.8,81.8 L535.5,81.5 L536.3,81.2 L537.2,81.0 L538.0,80.8 L539.0,80.6 L539.9,80.5 L540.9,80.4 L541.9,80.3 L542.9,80.3 L544.0,80.4 L545.0,80.5 L546.1,80.6 L547.1,80.7 L548.2,80.9 L549.2,81.2 L550.2,81.5 L551.2,81.8 L552.1,82.1 L553.0,82.5 L553.9,82.9 L554.8,83.4 L555.6,83.8 L556.3,84.3 L557.0,84.9 L557.6,85.4 L558.2,85.9 L558.7,86.5 L559.1,87.1 L559.5,87.6 L559.8,88.2 L560.0,88.8 L560.2,89.4 L560.3,90.0 L560.3,90.5 L560.3,91.1 L560.1,91.6 L560.0,92.2 L559.7,92.7 L559.4,93.2 L559.0,93.6 L558.5,94.1 L558.0,94.5 L557.4,94.9 L556.8,95.3 L556.1,95.6 L555.4,95.9 L554.6,96.2 L553.8,96.4 L553.0,96.6 L552.1,96.8 L551.1,96.9 L550.2,96.9 L549.2,97.0 L548.3,97.0 L547.3,97.0 L546.3,96.9 L545.3,96.8 L544.3,96.6 L543.3,96.4 L542.3,96.2 L541.3,95.9 L540.3,95.6 L539.4,95.3 L538.5,95.0 L537.6,94.6 L536.8,94.2 L536.0,93.7 L535.3,93.2 L534.6,92.8 L533.9,92.2 L533.3,91.7 L532.8,91.2 L532.3,90.6 L531.9,90.0 L531.6,89.5 L531.3,88.9 L531.1,88.3 L530.9,87.7 L530.9,87.1 L530.9,86.6 L531.0,86.0 L531.1,85.5 L531.3,84.9 L531.6,84.4 L532.0,83.9 L532.4,83.4 L532.9,83.0Z" fill="none" stroke="#7bd050" stroke-width="0.7" clip-path="url(#ccb)"/>
<path d="M535.2,83.6 L535.8,83.2 L536.3,82.9 L537.0,82.6 L537.7,82.4 L538.4,82.2 L539.1,82.0 L539.9,81.9 L540.7,81.8 L541.5,81.7 L542.4,81.6 L543.3,81.6 L544.2,81.7 L545.1,81.7 L545.9,81.8 L546.8,82.0 L547.7,82.2 L548.6,82.4 L549.5,82.6 L550.3,82.9 L551.1,83.2 L551.9,83.5 L552.6,83.9 L553.4,84.2 L554.0,84.6 L554.7,85.0 L555.2,85.5 L555.8,85.9 L556.3,86.4 L556.7,86.9 L557.1,87.4 L557.4,87.9 L557.7,88.4 L557.9,88.8 L558.0,89.3 L558.1,89.8 L558.1,90.3 L558.1,90.8 L558.0,91.3 L557.8,91.7 L557.6,92.2 L557.3,92.6 L557.0,93.0 L556.6,93.4 L556.2,93.7 L555.7,94.1 L555.1,94.4 L554.6,94.7 L553.9,94.9 L553.3,95.2 L552.6,95.3 L551.8,95.5 L551.1,95.6 L550.3,95.8 L549.5,95.8 L548.7,95.9 L547.8,95.9 L547.0,95.8 L546.1,95.8 L545.3,95.7 L544.4,95.5 L543.5,95.4 L542.7,95.2 L541.9,95.0 L541.1,94.7 L540.3,94.4 L539.5,94.1 L538.7,93.8 L538.0,93.4 L537.4,93.0 L536.7,92.6 L536.1,92.2 L535.6,91.8 L535.1,91.3 L534.6,90.9 L534.2,90.4 L533.9,89.9 L533.6,89.4 L533.3,88.9 L533.2,88.4 L533.0,87.9 L533.0,87.4 L533.0,87.0 L533.1,86.5 L533.2,86.0 L533.4,85.6 L533.6,85.1 L534.0,84.7 L534.3,84.3 L534.8,83.9Z" fill="none" stroke="#afe063" stroke-width="0.7" clip-path="url(#ccb)"/>
<path d="M537.2,84.6 L537.7,84.4 L538.1,84.1 L538.6,83.9 L539.2,83.7 L539.7,83.6 L540.3,83.4 L541.0,83.3 L541.6,83.2 L542.3,83.1 L543.0,83.1 L543.7,83.1 L544.4,83.1 L545.1,83.2 L545.8,83.3 L546.5,83.4 L547.2,83.5 L547.9,83.7 L548.6,83.9 L549.3,84.1 L550.0,84.3 L550.6,84.6 L551.2,84.9 L551.8,85.2 L552.3,85.5 L552.8,85.8 L553.3,86.2 L553.7,86.6 L554.1,86.9 L554.5,87.3 L554.8,87.7 L555.0,88.1 L555.3,88.5 L555.4,88.9 L555.5,89.3 L555.6,89.7 L555.6,90.1 L555.6,90.5 L555.5,90.8 L555.4,91.2 L555.2,91.6 L555.0,91.9 L554.7,92.2 L554.4,92.5 L554.1,92.8 L553.7,93.1 L553.2,93.4 L552.8,93.6 L552.3,93.8 L551.7,94.0 L551.2,94.1 L550.6,94.3 L550.0,94.4 L549.3,94.5 L548.7,94.5 L548.0,94.6 L547.3,94.6 L546.7,94.5 L546.0,94.5 L545.3,94.4 L544.6,94.3 L543.9,94.2 L543.2,94.0 L542.5,93.8 L541.9,93.6 L541.2,93.4 L540.6,93.1 L540.0,92.9 L539.4,92.6 L538.9,92.3 L538.4,92.0 L537.9,91.6 L537.5,91.3 L537.1,90.9 L536.7,90.5 L536.4,90.1 L536.1,89.7 L535.9,89.3 L535.7,88.9 L535.5,88.6 L535.4,88.2 L535.4,87.8 L535.4,87.4 L535.5,87.0 L535.6,86.6 L535.7,86.2 L535.9,85.9 L536.2,85.6 L536.5,85.2 L536.8,84.9Z" fill="none" stroke="#d6ec80" stroke-width="0.7" clip-path="url(#ccb)"/>
<path d="M539.7,86.0 L540.0,85.8 L540.3,85.6 L540.7,85.5 L541.1,85.3 L541.5,85.2 L541.9,85.1 L542.3,85.0 L542.8,85.0 L543.2,84.9 L543.7,84.9 L544.2,84.9 L544.7,84.9 L545.2,85.0 L545.7,85.0 L546.2,85.1 L546.7,85.2 L547.2,85.3 L547.6,85.5 L548.1,85.6 L548.6,85.8 L549.0,86.0 L549.4,86.1 L549.8,86.4 L550.2,86.6 L550.6,86.8 L550.9,87.1 L551.2,87.3 L551.5,87.6 L551.7,87.8 L551.9,88.1 L552.1,88.4 L552.3,88.7 L552.4,88.9 L552.5,89.2 L552.5,89.5 L552.5,89.8 L552.5,90.0 L552.5,90.3 L552.4,90.6 L552.3,90.8 L552.1,91.0 L551.9,91.3 L551.7,91.5 L551.5,91.7 L551.2,91.9 L550.9,92.1 L550.6,92.2 L550.2,92.4 L549.8,92.5 L549.4,92.6 L549.0,92.7 L548.6,92.8 L548.2,92.8 L547.7,92.9 L547.2,92.9 L546.8,92.9 L546.3,92.9 L545.8,92.8 L545.3,92.8 L544.8,92.7 L544.3,92.6 L543.9,92.5 L543.4,92.4 L542.9,92.2 L542.5,92.1 L542.0,91.9 L541.6,91.7 L541.2,91.5 L540.8,91.3 L540.5,91.1 L540.1,90.8 L539.8,90.6 L539.6,90.3 L539.3,90.1 L539.1,89.8 L538.9,89.5 L538.7,89.3 L538.6,89.0 L538.5,88.7 L538.4,88.4 L538.4,88.1 L538.4,87.9 L538.5,87.6 L538.5,87.3 L538.7,87.1 L538.8,86.8 L539.0,86.6 L539.2,86.4 L539.4,86.2Z" fill="none" stroke="#f1f4a9" stroke-width="0.7" clip-path="url(#ccb)"/>
<ellipse cx="544.8" cy="94.3" rx="0.5" ry="0.3" fill="#fde725"/>
<ellipse cx="544.8" cy="94.4" rx="0.8" ry="0.3" fill="#fde725"/>
<ellipse cx="544.8" cy="94.7" rx="1.6" ry="0.6" fill="#fbe725"/>
<ellipse cx="544.8" cy="95.2" rx="2.4" ry="0.8" fill="#f9e625"/>
<ellipse cx="544.8" cy="95.9" rx="3.1" ry="1.1" fill="#f6e626"/>
<ellipse cx="544.8" cy="96.7" rx="3.9" ry="1.4" fill="#f2e626"/>
<ellipse cx="544.8" cy="97.8" rx="4.7" ry="1.7" fill="#ede527"/>
<ellipse cx="544.8" cy="99.0" rx="5.5" ry="2.0" fill="#e7e427"/>
<ellipse cx="544.8" cy="100.4" rx="6.4" ry="2.3" fill="#e1e328"/>
<ellipse cx="544.8" cy="102.0" rx="7.2" ry="2.6" fill="#d9e328"/>
<ellipse cx="544.8" cy="103.7" rx="8.0" ry="2.9" fill="#d1e229"/>
<ellipse cx="544.8" cy="105.6" rx="8.8" ry="3.2" fill="#c8e02a"/>
<ellipse cx="544.8" cy="107.7" rx="9.7" ry="3.5" fill="#bfdf2b"/>
<ellipse cx="544.8" cy="109.8" rx="10.5" ry="3.8" fill="#b5de2c"/>
<ellipse cx="544.8" cy="112.2" rx="11.4" ry="4.1" fill="#aadc32"/>
<ellipse cx="544.8" cy="114.6" rx="12.3" ry="4.4" fill="#9fd939"/>
<ellipse cx="544.8" cy="117.2" rx="13.2" ry="4.7" fill="#93d641"/>
<ellipse cx="544.8" cy="119.8" rx="14.1" ry="5.1" fill="#87d348"/>
<ellipse cx="544.8" cy="122.6" rx="15.0" ry="5.4" fill="#7bd050"/>
<ellipse cx="544.8" cy="125.4" rx="15.9" ry="5.7" fill="#6ecd59"/>
<ellipse cx="544.8" cy="128.4" rx="16.9" ry="6.1" fill="#63c95f"/>
<ellipse cx="544.8" cy="131.3" rx="17.8" ry="6.4" fill="#58c565"/>
<ellipse cx="544.8" cy="134.4" rx="18.8" ry="6.8" fill="#4ec16b"/>
<ellipse cx="544.8" cy="137.5" rx="19.7" ry="7.1" fill="#43bc71"/>
<ellipse cx="544.8" cy="140.6" rx="20.7" ry="7.5" fill="#37b878"/>
<ellipse cx="544.8" cy="143.8" rx="21.7" ry="7.8" fill="#31b37c"/>
<ellipse cx="544.8" cy="146.9" rx="22.7" ry="8.2" fill="#2dae7f"/>
<ellipse cx="544.8" cy="150.1" rx="23.8" ry="8.6" fill="#29a982"/>
<ellipse cx="544.8" cy="153.3" rx="24.8" ry="8.9" fill="#24a485"/>
<ellipse cx="544.8" cy="156.4" rx="25.8" ry="9.3" fill="#209f89"/>
<ellipse cx="544.8" cy="159.6" rx="26.9" ry="9.7" fill="#20998a"/>
<ellipse cx="544.8" cy="162.7" rx="28.0" ry="10.1" fill="#22948b"/>
<ellipse cx="544.8" cy="165.8" rx="29.0" ry="10.4" fill="#238e8c"/>
<ellipse cx="544.8" cy="168.9" rx="30.1" ry="10.8" fill="#24898d"/>
<ellipse cx="544.8" cy="171.9" rx="31.2" ry="11.2" fill="#26838e"/>
<ellipse cx="544.8" cy="174.8" rx="32.3" ry="11.6" fill="#277e8e"/>
<ellipse cx="544.8" cy="177.7" rx="33.4" ry="12.0" fill="#2a7a8e"/>
<ellipse cx="544.8" cy="180.6" rx="34.5" ry="12.4" fill="#2c758e"/>
<ellipse cx="544.8" cy="183.3" rx="35.6" ry="12.8" fill="#2d708e"/>
<ellipse cx="544.8" cy="186.0" rx="36.7" ry="13.2" fill="#2f6c8e"/>
<ellipse cx="544.8" cy="188.6" rx="37.8" ry="13.6" fill="#31678e"/>
<ellipse cx="544.8" cy="191.2" rx="39.0" ry="14.0" fill="#33638d"/>
<ellipse cx="544.8" cy="193.6" rx="40.1" ry="14.4" fill="#355e8c"/>
<ellipse cx="544.8" cy="196.0" rx="41.2" ry="14.8" fill="#37598c"/>
<ellipse cx="544.8" cy="198.3" rx="42.4" ry="15.2" fill="#39558b"/>
<ellipse cx="544.8" cy="200.5" rx="43.5" ry="15.7" fill="#3b518a"/>
<ellipse cx="544.8" cy="202.6" rx="44.6" ry="16.1" fill="#3d4d89"/>
<ellipse cx="544.8" cy="204.7" rx="45.8" ry="16.5" fill="#3e4988"/>
<ellipse cx="544.8" cy="206.6" rx="46.9" ry="16.9" fill="#404486"/>
<ellipse cx="544.8" cy="208.5" rx="48.0" ry="17.3" fill="#414084"/>
<ellipse cx="544.8" cy="210.2" rx="49.2" ry="17.7" fill="#423c82"/>
<ellipse cx="544.8" cy="211.9" rx="50.3" ry="18.1" fill="#433980"/>
<ellipse cx="544.8" cy="213.5" rx="51.4" ry="18.5" fill="#44357f"/>
<ellipse cx="544.8" cy="215.1" rx="52.5" ry="18.9" fill="#45327d"/>
<ellipse cx="544.8" cy="216.5" rx="53.7" ry="19.3" fill="#462f7b"/>
<ellipse cx="544.8" cy="217.9" rx="54.8" ry="19.7" fill="#472c7a"/>
<ellipse cx="544.8" cy="219.2" rx="55.9" ry="20.1" fill="#482979"/>
<ellipse cx="544.8" cy="220.4" rx="57.0" ry="20.5" fill="#482676"/>
<ellipse cx="544.8" cy="221.5" rx="58.1" ry="20.9" fill="#482374"/>
<ellipse cx="544.8" cy="222.6" rx="59.3" ry="21.3" fill="#472171"/>
<ellipse cx="544.8" cy="223.6" rx="60.4" ry="21.7" fill="#471e6f"/>
<ellipse cx="544.8" cy="224.5" rx="61.5" ry="22.1" fill="#471c6d"/>
<ellipse cx="544.8" cy="225.4" rx="62.6" ry="22.5" fill="#471a6b"/>
<ellipse cx="544.8" cy="226.2" rx="63.7" ry="22.9" fill="#461869"/>
<ellipse cx="544.8" cy="227.0" rx="64.8" ry="23.3" fill="#461667"/>
<ellipse cx="544.8" cy="227.7" rx="65.8" ry="23.7" fill="#461465"/>
<ellipse cx="544.8" cy="228.4" rx="66.9" ry="24.1" fill="#461264"/>
<ellipse cx="544.8" cy="229.0" rx="68.0" ry="24.5" fill="#461163"/>
<ellipse cx="544.8" cy="229.5" rx="69.1" ry="24.9" fill="#450f61"/>
<ellipse cx="544.8" cy="230.0" rx="70.2" ry="25.3" fill="#450e60"/>
<ellipse cx="544.8" cy="230.5" rx="71.3" ry="25.7" fill="#450d5f"/>
<ellipse cx="544.8" cy="231.0" rx="72.3" ry="26.0" fill="#450c5e"/>
<ellipse cx="544.8" cy="231.4" rx="73.4" ry="26.4" fill="#450b5d"/>
<ellipse cx="544.8" cy="231.8" rx="74.5" ry="26.8" fill="#450a5c"/>
<ellipse cx="544.8" cy="232.1" rx="75.5" ry="27.2" fill="#45095b"/>
<ellipse cx="544.8" cy="232.4" rx="76.6" ry="27.6" fill="#45085b"/>
<ellipse cx="544.8" cy="232.7" rx="77.6" ry="28.0" fill="#45075a"/>
<ellipse cx="544.8" cy="233.0" rx="78.7" ry="28.3" fill="#450759"/>
<ellipse cx="544.8" cy="233.2" rx="79.8" ry="28.7" fill="#450659"/>
<ellipse cx="544.8" cy="233.4" rx="80.8" ry="29.1" fill="#440658"/>
<ellipse cx="544.8" cy="233.6" rx="81.9" ry="29.5" fill="#440558"/>
<linearGradient id="lgb" x1="0" y1="0" x2="1" y2="0"><stop offset="0.25" stop-color="#fff" stop-opacity="0.16"/><stop offset="0.5" stop-color="#fff" stop-opacity="0.02"/><stop offset="0.75" stop-color="#000" stop-opacity="0.10"/></linearGradient>
<linearGradient id="lgb2" x1="0" y1="0" x2="0" y2="1"><stop offset="0.3" stop-color="#fff" stop-opacity="1"/><stop offset="0.0" stop-color="#fff" stop-opacity="0"/></linearGradient>
<polygon points="544.3,94.3 544.0,94.4 543.2,94.7 542.4,95.2 541.7,95.9 540.9,96.7 540.1,97.8 539.3,99.0 538.4,100.4 537.6,102.0 536.8,103.7 536.0,105.6 535.1,107.7 534.3,109.8 533.4,112.2 532.5,114.6 531.6,117.2 530.7,119.8 529.8,122.6 528.9,125.4 527.9,128.4 527.0,131.3 526.0,134.4 525.1,137.5 524.1,140.6 523.1,143.8 522.1,146.9 521.0,150.1 520.0,153.3 519.0,156.4 517.9,159.6 516.8,162.7 515.8,165.8 514.7,168.9 513.6,171.9 512.5,174.8 511.4,177.7 510.3,180.6 509.2,183.3 508.1,186.0 507.0,188.6 505.8,191.2 504.7,193.6 503.6,196.0 502.4,198.3 501.3,200.5 500.2,202.6 499.0,204.7 497.9,206.6 496.8,208.5 495.6,210.2 494.5,211.9 493.4,213.5 492.3,215.1 491.1,216.5 490.0,217.9 488.9,219.2 487.8,220.4 486.7,221.5 485.5,222.6 484.4,223.6 483.3,224.5 482.2,225.4 481.1,226.2 480.0,227.0 479.0,227.7 477.9,228.4 476.8,229.0 475.7,229.5 474.6,230.0 473.5,230.5 472.5,231.0 471.4,231.4 470.3,231.8 469.3,232.1 468.2,232.4 467.2,232.7 466.1,233.0 465.0,233.2 464.0,233.4 462.9,233.6 626.7,233.6 625.6,233.4 624.6,233.2 623.5,233.0 622.4,232.7 621.4,232.4 620.3,232.1 619.3,231.8 618.2,231.4 617.1,231.0 616.1,230.5 615.0,230.0 613.9,229.5 612.8,229.0 611.7,228.4 610.6,227.7 609.6,227.0 608.5,226.2 607.4,225.4 606.3,224.5 605.2,223.6 604.1,222.6 602.9,221.5 601.8,220.4 600.7,219.2 599.6,217.9 598.5,216.5 597.3,215.1 596.2,213.5 595.1,211.9 594.0,210.2 592.8,208.5 591.7,206.6 590.6,204.7 589.4,202.6 588.3,200.5 587.2,198.3 586.0,196.0 584.9,193.6 583.8,191.2 582.6,188.6 581.5,186.0 580.4,183.3 579.3,180.6 578.2,177.7 577.1,174.8 576.0,171.9 574.9,168.9 573.8,165.8 572.8,162.7 571.7,159.6 570.6,156.4 569.6,153.3 568.6,150.1 567.5,146.9 566.5,143.8 565.5,140.6 564.5,137.5 563.6,134.4 562.6,131.3 561.7,128.4 560.7,125.4 559.8,122.6 558.9,119.8 558.0,117.2 557.1,114.6 556.2,112.2 555.3,109.8 554.5,107.7 553.6,105.6 552.8,103.7 552.0,102.0 551.2,100.4 550.3,99.0 549.5,97.8 548.7,96.7 547.9,95.9 547.2,95.2 546.4,94.7 545.6,94.4 545.3,94.3" fill="url(#lgb)" />
<linearGradient id="fgb" gradientUnits="userSpaceOnUse" x1="430" y1="230" x2="665" y2="245"><stop offset="0" stop-color="#48185f"/><stop offset="0.45" stop-color="#3a0f54"/><stop offset="1" stop-color="#2e0946"/></linearGradient>
<polygon points="424.0,239.0 538.3,185.0 669.5,235.0 550.5,272.5" fill="url(#fgb)" />
<clipPath id="cfb"><polygon points="424,239 538.3,185 669.5,235 550.5,272.5"/></clipPath>
<polygon points="470.0,221.0 538.3,185.0 640.0,236.0 560.0,225.0" fill="#2e0946" clip-path="url(#cfb)"/>
<radialGradient id="gb" cx="0.36" cy="0.1" r="0.7" fx="0.36" fy="0.1"><stop offset="0" stop-color="#3c3a78"/><stop offset="0.3" stop-color="#3d2e6e"/><stop offset="0.55" stop-color="#3b1d60" stop-opacity="0.9"/><stop offset="0.8" stop-color="#380f55" stop-opacity="0.4"/><stop offset="1" stop-color="#340d4e" stop-opacity="0"/></radialGradient>
<linearGradient id="gb0" x1="0" y1="0" x2="0" y2="1"><stop offset="0" stop-color="#39226a"/><stop offset="0.45" stop-color="#38185c" stop-opacity="0.85"/><stop offset="0.85" stop-color="#360f52" stop-opacity="0"/></linearGradient>
<g clip-path="url(#cfb)"><ellipse cx="548" cy="232" rx="80" ry="29.5" transform="rotate(7 548 232)" fill="url(#gb0)"/></g>
<g clip-path="url(#cfb)"><ellipse cx="548" cy="232" rx="80" ry="29.5" transform="rotate(7 548 232)" fill="url(#gb)"/></g>
<path d="M423.0,240.5 L550.5,274.0 L670.5,236.5" fill="none" stroke="#e9dcef" stroke-width="1.2"/>
<text transform="translate(415.5,264.0) rotate(78) scale(1.05,1)" font-family="Liberation Sans" font-size="10.5" text-anchor="middle" fill="#444" >5</text>
<text transform="translate(440.2,268.0) rotate(78) scale(1.05,1)" font-family="Liberation Sans" font-size="10.5" text-anchor="middle" fill="#444" >4</text>
<text transform="translate(464.2,275.0) rotate(78) scale(1.05,1)" font-family="Liberation Sans" font-size="10.5" text-anchor="middle" fill="#444" >3</text>
<text transform="translate(486.5,280.0) rotate(78) scale(1.05,1)" font-family="Liberation Sans" font-size="10.5" text-anchor="middle" fill="#444" >2</text>
<text transform="translate(507.0,285.0) rotate(78) scale(1.05,1)" font-family="Liberation Sans" font-size="10.5" text-anchor="middle" fill="#444" >1</text>
<text transform="translate(526.5,288.0) rotate(78) scale(1.05,1)" font-family="Liberation Sans" font-size="10.5" text-anchor="middle" fill="#444" >0</text>
<text transform="translate(545.0,292.0) rotate(78) scale(1.05,1)" font-family="Liberation Sans" font-size="10.5" text-anchor="middle" fill="#444" >−1</text>
<text transform="translate(552.5,292.0) rotate(-78) scale(1.05,1)" font-family="Liberation Sans" font-size="10.5" text-anchor="middle" fill="#444" >−2</text>
<text transform="translate(573.5,290.0) rotate(-78) scale(1.05,1)" font-family="Liberation Sans" font-size="10.5" text-anchor="middle" fill="#444" >−1</text>
<text transform="translate(589.2,285.0) rotate(-78) scale(1.05,1)" font-family="Liberation Sans" font-size="10.5" text-anchor="middle" fill="#444" >0</text>
<text transform="translate(610.5,278.0) rotate(-78) scale(1.05,1)" font-family="Liberation Sans" font-size="10.5" text-anchor="middle" fill="#444" >1</text>
<text transform="translate(632.8,272.0) rotate(-78) scale(1.05,1)" font-family="Liberation Sans" font-size="10.5" text-anchor="middle" fill="#444" >2</text>
<text transform="translate(654.2,266.0) rotate(-78) scale(1.05,1)" font-family="Liberation Sans" font-size="10.5" text-anchor="middle" fill="#444" >3</text>
<text transform="translate(677.5,260.0) rotate(-78) scale(1.05,1)" font-family="Liberation Sans" font-size="10.5" text-anchor="middle" fill="#444" >4</text>
<text transform="translate(418.5,119.5) rotate(15) skewX(-10) scale(1.05,1)" font-family="Liberation Sans" font-size="10.5" text-anchor="middle" fill="#444" >0.2</text>
<text transform="translate(410.0,174.0) rotate(15) skewX(-10) scale(1.05,1)" font-family="Liberation Sans" font-size="10.5" text-anchor="middle" fill="#444" >0.1</text>
<text transform="translate(401.5,240.0) rotate(0.04) skewX(-10) scale(1.05,1)" font-family="Liberation Sans" font-size="10.5" text-anchor="middle" fill="#444" >0</text>
<text transform="translate(393.0,151.5) rotate(-78.3)" font-family="Liberation Sans" font-size="11.3" text-anchor="middle" fill="#444" >Probability density</text>
<text transform="translate(487.0,308.5) rotate(10)" font-family="Liberation Sans" font-size="11.4" text-anchor="middle" fill="#444" >Guilty suspect strength</text>
<text transform="translate(611.0,306.0) rotate(-10.8)" font-family="Liberation Sans" font-size="11.4" text-anchor="middle" fill="#444" >Max filler strength</text>
<text transform="translate(180.9,359.4) rotate(0.04)" font-family="Liberation Serif" font-size="20" text-anchor="middle" fill="#111" >(c)</text>
<line x1="111.7" y1="594.0" x2="114.6" y2="447.4" stroke="#ececec" stroke-width="0.8" />
<line x1="135.9" y1="594.0" x2="138.1" y2="446.9" stroke="#ececec" stroke-width="0.8" />
<line x1="160.3" y1="594.0" x2="161.7" y2="446.4" stroke="#ececec" stroke-width="0.8" />
<line x1="184.8" y1="594.0" x2="185.5" y2="446.0" stroke="#ececec" stroke-width="0.8" />
<line x1="209.4" y1="594.0" x2="209.5" y2="445.5" stroke="#ececec" stroke-width="0.8" />
<line x1="234.3" y1="594.0" x2="233.6" y2="445.0" stroke="#ececec" stroke-width="0.8" />
<line x1="259.3" y1="594.0" x2="257.8" y2="444.5" stroke="#ececec" stroke-width="0.8" />
<line x1="105.0" y1="594.0" x2="108.0" y2="447.5" stroke="#ececec" stroke-width="0.8" />
<line x1="261.5" y1="594.0" x2="260.0" y2="444.5" stroke="#ececec" stroke-width="0.8" />
<line x1="106.3" y1="532.5" x2="260.9" y2="531.2" stroke="#ececec" stroke-width="0.8" />
<line x1="107.4" y1="477.6" x2="260.3" y2="475.2" stroke="#ececec" stroke-width="0.8" />
<line x1="108.0" y1="447.5" x2="260.0" y2="444.5" stroke="#ececec" stroke-width="0.8" />
<line x1="59.3" y1="594.0" x2="68.0" y2="390.0" stroke="#ececec" stroke-width="0.8" />
<line x1="69.3" y1="594.0" x2="76.6" y2="402.3" stroke="#ececec" stroke-width="0.8" />
<line x1="78.1" y1="594.0" x2="84.1" y2="413.2" stroke="#ececec" stroke-width="0.8" />
<line x1="85.8" y1="594.0" x2="90.9" y2="422.9" stroke="#ececec" stroke-width="0.8" />
<line x1="92.7" y1="594.0" x2="97.0" y2="431.6" stroke="#ececec" stroke-width="0.8" />
<line x1="98.8" y1="594.0" x2="102.4" y2="439.5" stroke="#ececec" stroke-width="0.8" />
<line x1="104.3" y1="594.0" x2="107.4" y2="446.7" stroke="#ececec" stroke-width="0.8" />
<line x1="58.0" y1="594.0" x2="66.9" y2="388.4" stroke="#ececec" stroke-width="0.8" />
<line x1="61.9" y1="503.8" x2="106.3" y2="530.9" stroke="#ececec" stroke-width="0.8" />
<line x1="65.2" y1="428.1" x2="107.4" y2="476.5" stroke="#ececec" stroke-width="0.8" />
<line x1="66.9" y1="388.4" x2="108.0" y2="447.5" stroke="#ececec" stroke-width="0.8" />
<line x1="268.0" y1="594.0" x2="265.0" y2="418.8" stroke="#ececec" stroke-width="0.8" />
<line x1="75.6" y1="388.1" x2="114.5" y2="447.4" stroke="#ececec" stroke-width="0.8" />
<line x1="107.0" y1="387.2" x2="137.9" y2="446.9" stroke="#ececec" stroke-width="0.8" />
<line x1="138.7" y1="386.3" x2="161.5" y2="446.4" stroke="#ececec" stroke-width="0.8" />
<line x1="170.8" y1="385.3" x2="185.3" y2="446.0" stroke="#ececec" stroke-width="0.8" />
<line x1="203.2" y1="384.3" x2="209.3" y2="445.5" stroke="#ececec" stroke-width="0.8" />
<line x1="235.9" y1="383.4" x2="233.5" y2="445.0" stroke="#ececec" stroke-width="0.8" />
<line x1="269.0" y1="382.4" x2="257.8" y2="444.5" stroke="#ececec" stroke-width="0.8" />
<line x1="66.9" y1="388.4" x2="108.0" y2="447.5" stroke="#ececec" stroke-width="0.8" />
<line x1="272.0" y1="382.3" x2="260.0" y2="444.5" stroke="#ececec" stroke-width="0.8" />
<line x1="68.0" y1="390.0" x2="271.7" y2="384.0" stroke="#ececec" stroke-width="0.8" />
<line x1="76.3" y1="401.9" x2="269.2" y2="396.6" stroke="#ececec" stroke-width="0.8" />
<line x1="83.7" y1="412.6" x2="267.1" y2="407.9" stroke="#ececec" stroke-width="0.8" />
<line x1="90.5" y1="422.3" x2="265.1" y2="418.1" stroke="#ececec" stroke-width="0.8" />
<line x1="96.6" y1="431.1" x2="263.3" y2="427.4" stroke="#ececec" stroke-width="0.8" />
<line x1="102.2" y1="439.2" x2="261.7" y2="435.8" stroke="#ececec" stroke-width="0.8" />
<line x1="107.4" y1="446.6" x2="260.2" y2="443.6" stroke="#ececec" stroke-width="0.8" />
<line x1="66.9" y1="388.4" x2="272.0" y2="382.3" stroke="#ececec" stroke-width="0.8" />
<line x1="108.0" y1="447.5" x2="260.0" y2="444.5" stroke="#ececec" stroke-width="0.8" />
<line x1="107.0" y1="387.2" x2="137.9" y2="446.9" stroke="#a6a6a6" stroke-width="1" />
<line x1="135.9" y1="594.0" x2="138.1" y2="446.9" stroke="#a6a6a6" stroke-width="1" />
<line x1="83.7" y1="412.6" x2="267.1" y2="407.9" stroke="#a6a6a6" stroke-width="1" />
<line x1="78.1" y1="594.0" x2="84.1" y2="413.2" stroke="#a6a6a6" stroke-width="1" />
<clipPath id="ccc"><polygon points="66.9,388.4 272,382.3 260,444.5 108,447.5"/></clipPath>
<path d="M273.1,419.4 L272.5,421.0 L271.5,422.5 L270.1,424.1 L268.2,425.6 L266.0,427.1 L263.4,428.5 L260.5,429.9 L257.2,431.2 L253.6,432.4 L249.8,433.6 L245.7,434.8 L241.3,435.8 L236.8,436.8 L232.0,437.7 L227.1,438.5 L222.0,439.3 L216.7,439.9 L211.4,440.5 L205.9,441.0 L200.4,441.4 L194.9,441.8 L189.2,442.0 L183.6,442.2 L178.0,442.2 L172.4,442.2 L166.8,442.1 L161.3,441.9 L155.9,441.6 L150.6,441.2 L145.4,440.8 L140.3,440.2 L135.4,439.6 L130.6,438.9 L126.1,438.1 L121.7,437.3 L117.6,436.3 L113.7,435.3 L110.1,434.2 L106.8,433.1 L103.8,431.9 L101.1,430.6 L98.8,429.3 L96.8,427.9 L95.1,426.4 L93.9,425.0 L93.1,423.4 L92.7,421.9 L92.7,420.3 L93.2,418.8 L94.1,417.2 L95.5,415.6 L97.3,414.0 L99.6,412.4 L102.4,410.9 L105.6,409.4 L109.2,407.9 L113.3,406.5 L117.8,405.2 L122.7,403.9 L128.0,402.7 L133.6,401.6 L139.5,400.6 L145.7,399.8 L152.2,399.0 L158.9,398.3 L165.7,397.8 L172.7,397.4 L179.7,397.2 L186.8,397.1 L193.9,397.1 L200.8,397.2 L207.7,397.5 L214.4,398.0 L220.9,398.5 L227.2,399.2 L233.1,400.0 L238.8,401.0 L244.1,402.0 L249.0,403.1 L253.5,404.3 L257.5,405.6 L261.2,407.0 L264.3,408.4 L267.0,409.9 L269.2,411.4 L270.9,413.0 L272.2,414.6 L273.0,416.2 L273.3,417.8Z" fill="none" stroke="#462557" stroke-width="1.0" clip-path="url(#ccc)"/>
<path d="M244.8,420.1 L244.5,421.1 L244.0,422.0 L243.1,422.9 L241.9,423.8 L240.4,424.7 L238.6,425.6 L236.6,426.4 L234.3,427.3 L231.8,428.0 L229.0,428.8 L226.0,429.5 L222.8,430.2 L219.4,430.8 L215.9,431.4 L212.2,432.0 L208.4,432.4 L204.4,432.9 L200.4,433.3 L196.3,433.6 L192.1,433.9 L187.8,434.1 L183.6,434.3 L179.3,434.4 L175.0,434.5 L170.7,434.5 L166.5,434.4 L162.3,434.3 L158.2,434.2 L154.1,433.9 L150.2,433.7 L146.4,433.3 L142.7,433.0 L139.2,432.5 L135.9,432.0 L132.7,431.5 L129.7,430.9 L126.9,430.3 L124.3,429.6 L122.0,428.9 L119.9,428.2 L118.1,427.4 L116.6,426.6 L115.3,425.8 L114.4,424.9 L113.7,424.0 L113.3,423.1 L113.3,422.2 L113.5,421.3 L114.1,420.3 L115.0,419.4 L116.2,418.5 L117.8,417.6 L119.7,416.7 L121.8,415.8 L124.3,414.9 L127.1,414.1 L130.2,413.3 L133.5,412.6 L137.1,411.8 L140.9,411.2 L145.0,410.6 L149.2,410.0 L153.6,409.5 L158.2,409.1 L162.9,408.7 L167.6,408.4 L172.5,408.2 L177.4,408.0 L182.3,407.9 L187.2,407.9 L192.1,408.0 L196.8,408.1 L201.5,408.3 L206.1,408.6 L210.4,408.9 L214.6,409.4 L218.6,409.8 L222.4,410.4 L226.0,411.0 L229.2,411.6 L232.2,412.3 L234.9,413.1 L237.3,413.9 L239.3,414.7 L241.1,415.6 L242.5,416.4 L243.6,417.3 L244.3,418.3 L244.7,419.2Z" fill="none" stroke="#472360" stroke-width="0.85" clip-path="url(#ccc)"/>
<path d="M236.5,420.0 L236.3,420.8 L235.9,421.6 L235.1,422.4 L234.1,423.3 L232.8,424.0 L231.3,424.8 L229.6,425.6 L227.6,426.3 L225.3,427.0 L222.9,427.7 L220.3,428.3 L217.5,428.9 L214.6,429.5 L211.4,430.0 L208.2,430.5 L204.8,430.9 L201.3,431.3 L197.8,431.6 L194.1,431.9 L190.4,432.2 L186.7,432.4 L182.9,432.6 L179.1,432.7 L175.3,432.7 L171.5,432.7 L167.8,432.7 L164.1,432.6 L160.4,432.4 L156.9,432.2 L153.4,432.0 L150.0,431.7 L146.8,431.4 L143.7,431.0 L140.7,430.5 L137.9,430.1 L135.3,429.5 L132.8,429.0 L130.6,428.4 L128.6,427.8 L126.8,427.1 L125.2,426.4 L123.8,425.7 L122.8,425.0 L121.9,424.2 L121.4,423.4 L121.1,422.6 L121.1,421.8 L121.3,421.0 L121.9,420.2 L122.7,419.4 L123.8,418.6 L125.2,417.8 L126.9,417.0 L128.8,416.2 L131.0,415.5 L133.5,414.7 L136.2,414.0 L139.1,413.4 L142.2,412.8 L145.6,412.2 L149.1,411.6 L152.8,411.2 L156.7,410.7 L160.7,410.4 L164.8,410.0 L168.9,409.8 L173.2,409.6 L177.4,409.4 L181.7,409.4 L186.0,409.3 L190.2,409.4 L194.4,409.5 L198.4,409.7 L202.4,409.9 L206.2,410.3 L209.9,410.6 L213.4,411.0 L216.7,411.5 L219.8,412.0 L222.6,412.6 L225.3,413.2 L227.6,413.9 L229.7,414.5 L231.6,415.3 L233.1,416.0 L234.4,416.8 L235.3,417.6 L236.0,418.4 L236.4,419.2Z" fill="none" stroke="#482f6a" stroke-width="0.85" clip-path="url(#ccc)"/>
<path d="M231.1,419.9 L231.0,420.7 L230.6,421.4 L229.9,422.2 L229.0,422.9 L227.9,423.6 L226.5,424.3 L224.9,425.0 L223.1,425.7 L221.1,426.3 L218.9,426.9 L216.5,427.5 L214.0,428.0 L211.3,428.6 L208.5,429.0 L205.5,429.5 L202.4,429.9 L199.3,430.3 L196.0,430.6 L192.7,430.8 L189.3,431.1 L185.9,431.3 L182.4,431.4 L179.0,431.5 L175.5,431.6 L172.0,431.6 L168.6,431.5 L165.2,431.4 L161.9,431.3 L158.7,431.1 L155.5,430.9 L152.4,430.6 L149.5,430.3 L146.6,430.0 L143.9,429.6 L141.4,429.1 L139.0,428.7 L136.8,428.1 L134.8,427.6 L132.9,427.0 L131.3,426.4 L129.9,425.8 L128.7,425.1 L127.7,424.5 L127.0,423.8 L126.5,423.1 L126.2,422.3 L126.2,421.6 L126.5,420.9 L127.0,420.1 L127.8,419.4 L128.8,418.6 L130.1,417.9 L131.6,417.2 L133.4,416.5 L135.4,415.8 L137.6,415.2 L140.1,414.5 L142.8,414.0 L145.6,413.4 L148.7,412.9 L151.9,412.4 L155.2,411.9 L158.7,411.6 L162.3,411.2 L166.0,410.9 L169.8,410.7 L173.6,410.5 L177.5,410.4 L181.3,410.3 L185.2,410.3 L189.0,410.4 L192.7,410.5 L196.4,410.6 L200.0,410.9 L203.5,411.1 L206.8,411.5 L210.0,411.8 L213.0,412.3 L215.8,412.7 L218.4,413.2 L220.7,413.8 L222.9,414.4 L224.8,415.0 L226.5,415.6 L227.9,416.3 L229.1,417.0 L230.0,417.7 L230.6,418.5 L231.0,419.2Z" fill="none" stroke="#463971" stroke-width="0.85" clip-path="url(#ccc)"/>
<path d="M226.9,419.9 L226.8,420.6 L226.4,421.3 L225.8,422.0 L225.0,422.6 L224.0,423.3 L222.7,424.0 L221.3,424.6 L219.6,425.2 L217.8,425.8 L215.8,426.4 L213.6,426.9 L211.2,427.4 L208.8,427.9 L206.2,428.3 L203.4,428.7 L200.6,429.1 L197.7,429.5 L194.7,429.7 L191.6,430.0 L188.5,430.2 L185.3,430.4 L182.1,430.5 L178.9,430.6 L175.7,430.7 L172.5,430.7 L169.3,430.6 L166.2,430.5 L163.1,430.4 L160.1,430.3 L157.2,430.0 L154.3,429.8 L151.6,429.5 L149.0,429.2 L146.5,428.8 L144.1,428.4 L141.9,428.0 L139.9,427.5 L138.0,427.0 L136.3,426.5 L134.8,425.9 L133.5,425.3 L132.4,424.7 L131.6,424.1 L130.9,423.5 L130.4,422.8 L130.2,422.1 L130.3,421.4 L130.5,420.8 L131.0,420.1 L131.7,419.4 L132.7,418.7 L133.9,418.1 L135.3,417.4 L136.9,416.8 L138.8,416.1 L140.9,415.5 L143.1,415.0 L145.6,414.4 L148.2,413.9 L151.0,413.4 L154.0,413.0 L157.1,412.6 L160.3,412.2 L163.6,411.9 L167.0,411.6 L170.4,411.4 L174.0,411.3 L177.5,411.2 L181.0,411.1 L184.6,411.1 L188.1,411.1 L191.5,411.2 L194.9,411.4 L198.2,411.6 L201.4,411.8 L204.4,412.1 L207.3,412.5 L210.1,412.9 L212.7,413.3 L215.1,413.8 L217.3,414.3 L219.2,414.8 L221.0,415.4 L222.6,416.0 L223.9,416.6 L225.0,417.2 L225.8,417.9 L226.4,418.6 L226.8,419.2Z" fill="none" stroke="#434376" stroke-width="0.85" clip-path="url(#ccc)"/>
<path d="M223.4,419.9 L223.3,420.5 L222.9,421.2 L222.4,421.8 L221.7,422.4 L220.7,423.1 L219.6,423.7 L218.2,424.2 L216.7,424.8 L215.0,425.4 L213.1,425.9 L211.1,426.4 L208.9,426.9 L206.6,427.3 L204.2,427.7 L201.7,428.1 L199.0,428.5 L196.3,428.8 L193.5,429.1 L190.6,429.3 L187.7,429.5 L184.8,429.7 L181.8,429.8 L178.8,429.9 L175.8,429.9 L172.8,429.9 L169.9,429.9 L167.0,429.8 L164.1,429.7 L161.3,429.5 L158.6,429.3 L155.9,429.1 L153.4,428.8 L151.0,428.5 L148.6,428.2 L146.5,427.8 L144.4,427.4 L142.5,427.0 L140.8,426.5 L139.2,426.0 L137.8,425.5 L136.6,424.9 L135.6,424.4 L134.8,423.8 L134.2,423.2 L133.8,422.6 L133.6,422.0 L133.6,421.3 L133.9,420.7 L134.4,420.1 L135.0,419.4 L135.9,418.8 L137.1,418.2 L138.4,417.6 L139.9,417.0 L141.6,416.4 L143.6,415.8 L145.7,415.3 L148.0,414.8 L150.4,414.3 L153.0,413.9 L155.7,413.5 L158.6,413.1 L161.6,412.8 L164.6,412.5 L167.8,412.2 L171.0,412.0 L174.2,411.9 L177.5,411.8 L180.8,411.7 L184.1,411.7 L187.3,411.8 L190.5,411.9 L193.6,412.0 L196.7,412.2 L199.6,412.4 L202.4,412.7 L205.1,413.0 L207.7,413.4 L210.1,413.8 L212.3,414.2 L214.3,414.7 L216.2,415.2 L217.8,415.7 L219.3,416.2 L220.5,416.8 L221.5,417.4 L222.3,418.0 L222.9,418.6 L223.2,419.3Z" fill="none" stroke="#3b528a" stroke-width="0.85" clip-path="url(#ccc)"/>
<path d="M220.3,419.9 L220.2,420.5 L219.9,421.1 L219.4,421.7 L218.7,422.3 L217.8,422.8 L216.8,423.4 L215.5,423.9 L214.1,424.5 L212.5,425.0 L210.8,425.5 L208.9,426.0 L206.9,426.4 L204.7,426.8 L202.5,427.2 L200.1,427.6 L197.6,427.9 L195.1,428.2 L192.5,428.5 L189.8,428.7 L187.1,428.9 L184.3,429.0 L181.5,429.1 L178.7,429.2 L175.9,429.3 L173.2,429.3 L170.4,429.2 L167.7,429.2 L165.0,429.1 L162.4,428.9 L159.8,428.7 L157.4,428.5 L155.0,428.3 L152.7,428.0 L150.5,427.6 L148.5,427.3 L146.6,426.9 L144.8,426.5 L143.2,426.1 L141.8,425.6 L140.5,425.1 L139.4,424.6 L138.4,424.1 L137.7,423.5 L137.1,423.0 L136.8,422.4 L136.6,421.8 L136.6,421.2 L136.9,420.6 L137.3,420.0 L138.0,419.4 L138.8,418.9 L139.8,418.3 L141.1,417.7 L142.5,417.2 L144.1,416.6 L145.9,416.1 L147.9,415.6 L150.0,415.1 L152.3,414.7 L154.7,414.3 L157.3,413.9 L160.0,413.6 L162.7,413.3 L165.6,413.0 L168.5,412.8 L171.5,412.6 L174.5,412.5 L177.5,412.4 L180.6,412.3 L183.6,412.3 L186.6,412.3 L189.6,412.4 L192.5,412.6 L195.3,412.7 L198.1,412.9 L200.7,413.2 L203.2,413.5 L205.6,413.8 L207.8,414.2 L209.9,414.6 L211.8,415.0 L213.5,415.5 L215.1,416.0 L216.4,416.5 L217.6,417.0 L218.5,417.6 L219.3,418.1 L219.8,418.7 L220.1,419.3Z" fill="none" stroke="#355f8d" stroke-width="0.7" clip-path="url(#ccc)"/>
<path d="M217.4,419.9 L217.4,420.5 L217.1,421.0 L216.7,421.6 L216.0,422.1 L215.2,422.6 L214.2,423.2 L213.1,423.7 L211.7,424.2 L210.3,424.7 L208.7,425.1 L206.9,425.6 L205.0,426.0 L203.0,426.4 L200.9,426.7 L198.7,427.1 L196.4,427.4 L194.0,427.7 L191.6,427.9 L189.0,428.1 L186.5,428.3 L183.9,428.5 L181.3,428.6 L178.7,428.6 L176.1,428.7 L173.5,428.7 L170.9,428.6 L168.3,428.6 L165.8,428.5 L163.4,428.3 L161.0,428.2 L158.7,428.0 L156.4,427.7 L154.3,427.5 L152.3,427.1 L150.4,426.8 L148.6,426.5 L146.9,426.1 L145.4,425.7 L144.1,425.2 L142.9,424.8 L141.8,424.3 L141.0,423.8 L140.3,423.3 L139.8,422.8 L139.4,422.2 L139.3,421.7 L139.3,421.1 L139.6,420.6 L140.0,420.0 L140.6,419.5 L141.4,418.9 L142.4,418.4 L143.5,417.9 L144.9,417.3 L146.4,416.8 L148.1,416.4 L149.9,415.9 L151.9,415.5 L154.0,415.1 L156.3,414.7 L158.7,414.3 L161.2,414.0 L163.8,413.7 L166.4,413.5 L169.1,413.3 L171.9,413.1 L174.7,413.0 L177.6,412.9 L180.4,412.8 L183.2,412.8 L186.0,412.9 L188.8,412.9 L191.5,413.1 L194.1,413.2 L196.7,413.4 L199.1,413.7 L201.5,413.9 L203.7,414.2 L205.8,414.6 L207.7,415.0 L209.5,415.4 L211.1,415.8 L212.5,416.2 L213.8,416.7 L214.9,417.2 L215.8,417.7 L216.5,418.3 L217.0,418.8 L217.3,419.3Z" fill="none" stroke="#2f6c8e" stroke-width="0.7" clip-path="url(#ccc)"/>
<path d="M214.8,419.9 L214.8,420.4 L214.5,420.9 L214.1,421.5 L213.5,422.0 L212.8,422.5 L211.9,423.0 L210.8,423.4 L209.6,423.9 L208.2,424.4 L206.7,424.8 L205.0,425.2 L203.3,425.6 L201.4,426.0 L199.4,426.3 L197.4,426.6 L195.2,426.9 L193.0,427.2 L190.7,427.4 L188.3,427.6 L186.0,427.8 L183.5,427.9 L181.1,428.0 L178.6,428.1 L176.2,428.1 L173.7,428.1 L171.3,428.1 L168.9,428.0 L166.6,427.9 L164.3,427.8 L162.0,427.6 L159.9,427.5 L157.8,427.2 L155.8,427.0 L153.9,426.7 L152.1,426.4 L150.5,426.0 L148.9,425.7 L147.5,425.3 L146.3,424.9 L145.1,424.5 L144.2,424.0 L143.4,423.6 L142.7,423.1 L142.2,422.6 L141.9,422.1 L141.8,421.6 L141.9,421.1 L142.1,420.5 L142.5,420.0 L143.0,419.5 L143.8,419.0 L144.7,418.5 L145.8,418.0 L147.1,417.5 L148.5,417.1 L150.1,416.6 L151.8,416.2 L153.7,415.8 L155.6,415.4 L157.8,415.0 L160.0,414.7 L162.3,414.4 L164.7,414.1 L167.2,413.9 L169.7,413.7 L172.3,413.6 L174.9,413.4 L177.6,413.4 L180.2,413.3 L182.9,413.3 L185.5,413.3 L188.1,413.4 L190.6,413.5 L193.0,413.7 L195.4,413.9 L197.7,414.1 L199.9,414.3 L201.9,414.6 L203.9,414.9 L205.7,415.3 L207.4,415.7 L208.9,416.1 L210.2,416.5 L211.4,416.9 L212.4,417.4 L213.3,417.9 L213.9,418.4 L214.4,418.9 L214.7,419.4Z" fill="none" stroke="#2a788e" stroke-width="0.7" clip-path="url(#ccc)"/>
<path d="M212.4,419.9 L212.3,420.4 L212.1,420.9 L211.7,421.4 L211.2,421.8 L210.5,422.3 L209.6,422.8 L208.6,423.2 L207.5,423.7 L206.2,424.1 L204.8,424.5 L203.3,424.9 L201.6,425.2 L199.9,425.6 L198.0,425.9 L196.1,426.2 L194.1,426.5 L192.0,426.7 L189.9,426.9 L187.7,427.1 L185.4,427.3 L183.2,427.4 L180.9,427.5 L178.6,427.6 L176.3,427.6 L174.0,427.6 L171.7,427.6 L169.5,427.5 L167.3,427.4 L165.1,427.3 L163.1,427.2 L161.0,427.0 L159.1,426.8 L157.2,426.5 L155.5,426.3 L153.8,426.0 L152.2,425.7 L150.8,425.3 L149.5,425.0 L148.3,424.6 L147.3,424.2 L146.4,423.8 L145.6,423.3 L145.0,422.9 L144.6,422.4 L144.3,422.0 L144.2,421.5 L144.2,421.0 L144.4,420.5 L144.8,420.0 L145.4,419.5 L146.1,419.1 L146.9,418.6 L148.0,418.1 L149.2,417.7 L150.5,417.3 L152.0,416.8 L153.6,416.4 L155.3,416.1 L157.2,415.7 L159.1,415.4 L161.2,415.1 L163.4,414.8 L165.6,414.6 L167.9,414.3 L170.3,414.2 L172.7,414.0 L175.1,413.9 L177.6,413.8 L180.1,413.8 L182.5,413.8 L185.0,413.8 L187.4,413.9 L189.7,414.0 L192.0,414.1 L194.2,414.3 L196.3,414.5 L198.4,414.7 L200.3,415.0 L202.1,415.3 L203.8,415.6 L205.4,416.0 L206.8,416.3 L208.0,416.7 L209.1,417.1 L210.1,417.6 L210.9,418.0 L211.5,418.5 L212.0,419.0 L212.3,419.4Z" fill="none" stroke="#26848e" stroke-width="0.7" clip-path="url(#ccc)"/>
<path d="M210.0,419.9 L210.0,420.4 L209.8,420.8 L209.4,421.3 L208.9,421.7 L208.3,422.2 L207.5,422.6 L206.6,423.0 L205.5,423.4 L204.3,423.8 L203.0,424.2 L201.6,424.6 L200.0,424.9 L198.4,425.2 L196.7,425.5 L194.9,425.8 L193.0,426.1 L191.1,426.3 L189.1,426.5 L187.0,426.7 L184.9,426.8 L182.8,426.9 L180.7,427.0 L178.5,427.1 L176.4,427.1 L174.3,427.1 L172.1,427.1 L170.0,427.0 L168.0,427.0 L166.0,426.8 L164.0,426.7 L162.1,426.5 L160.3,426.3 L158.6,426.1 L156.9,425.9 L155.4,425.6 L153.9,425.3 L152.6,425.0 L151.4,424.6 L150.3,424.3 L149.3,423.9 L148.5,423.5 L147.8,423.1 L147.2,422.7 L146.8,422.3 L146.6,421.8 L146.5,421.4 L146.5,420.9 L146.7,420.5 L147.1,420.0 L147.6,419.6 L148.3,419.1 L149.1,418.7 L150.0,418.3 L151.1,417.9 L152.4,417.5 L153.8,417.1 L155.3,416.7 L156.9,416.3 L158.6,416.0 L160.4,415.7 L162.4,415.4 L164.4,415.2 L166.5,414.9 L168.6,414.7 L170.8,414.6 L173.1,414.4 L175.3,414.3 L177.6,414.3 L179.9,414.2 L182.2,414.2 L184.5,414.2 L186.7,414.3 L188.9,414.4 L191.0,414.5 L193.1,414.7 L195.0,414.9 L196.9,415.1 L198.7,415.4 L200.4,415.6 L202.0,415.9 L203.4,416.3 L204.8,416.6 L205.9,417.0 L207.0,417.4 L207.9,417.8 L208.6,418.2 L209.2,418.6 L209.6,419.0 L209.9,419.5Z" fill="none" stroke="#23908c" stroke-width="0.7" clip-path="url(#ccc)"/>
<path d="M207.7,419.9 L207.7,420.4 L207.5,420.8 L207.2,421.2 L206.7,421.6 L206.1,422.0 L205.4,422.4 L204.5,422.8 L203.6,423.2 L202.5,423.6 L201.2,423.9 L199.9,424.3 L198.5,424.6 L197.0,424.9 L195.4,425.2 L193.7,425.4 L192.0,425.7 L190.2,425.9 L188.3,426.1 L186.4,426.2 L184.5,426.4 L182.5,426.5 L180.5,426.6 L178.5,426.6 L176.5,426.6 L174.5,426.6 L172.5,426.6 L170.6,426.6 L168.7,426.5 L166.8,426.4 L165.0,426.2 L163.2,426.1 L161.5,425.9 L159.9,425.7 L158.4,425.5 L157.0,425.2 L155.6,424.9 L154.4,424.6 L153.2,424.3 L152.2,424.0 L151.3,423.6 L150.5,423.3 L149.9,422.9 L149.4,422.5 L149.0,422.1 L148.8,421.7 L148.7,421.3 L148.7,420.9 L148.9,420.5 L149.3,420.0 L149.8,419.6 L150.4,419.2 L151.1,418.8 L152.0,418.4 L153.1,418.0 L154.2,417.7 L155.5,417.3 L156.9,416.9 L158.4,416.6 L160.0,416.3 L161.7,416.0 L163.5,415.8 L165.4,415.5 L167.3,415.3 L169.3,415.1 L171.3,415.0 L173.4,414.9 L175.5,414.8 L177.6,414.7 L179.8,414.7 L181.9,414.7 L184.0,414.7 L186.0,414.7 L188.1,414.8 L190.0,414.9 L192.0,415.1 L193.8,415.3 L195.6,415.5 L197.2,415.7 L198.8,416.0 L200.2,416.2 L201.6,416.5 L202.8,416.9 L203.9,417.2 L204.9,417.6 L205.7,417.9 L206.4,418.3 L206.9,418.7 L207.3,419.1 L207.6,419.5Z" fill="none" stroke="#1f9c89" stroke-width="0.7" clip-path="url(#ccc)"/>
<path d="M205.5,420.0 L205.4,420.4 L205.3,420.7 L205.0,421.1 L204.6,421.5 L204.0,421.9 L203.3,422.3 L202.6,422.6 L201.6,423.0 L200.6,423.3 L199.5,423.6 L198.3,424.0 L197.0,424.3 L195.6,424.5 L194.1,424.8 L192.6,425.0 L190.9,425.3 L189.3,425.4 L187.5,425.6 L185.8,425.8 L184.0,425.9 L182.2,426.0 L180.3,426.1 L178.5,426.1 L176.6,426.2 L174.8,426.2 L172.9,426.1 L171.1,426.1 L169.4,426.0 L167.6,425.9 L165.9,425.8 L164.3,425.7 L162.7,425.5 L161.3,425.3 L159.8,425.1 L158.5,424.8 L157.3,424.6 L156.1,424.3 L155.1,424.0 L154.1,423.7 L153.3,423.4 L152.6,423.1 L152.0,422.7 L151.5,422.3 L151.2,422.0 L151.0,421.6 L150.9,421.2 L150.9,420.8 L151.1,420.4 L151.4,420.1 L151.9,419.7 L152.5,419.3 L153.2,418.9 L154.0,418.6 L155.0,418.2 L156.0,417.8 L157.2,417.5 L158.5,417.2 L159.9,416.9 L161.4,416.6 L163.0,416.4 L164.6,416.1 L166.3,415.9 L168.1,415.7 L170.0,415.5 L171.9,415.4 L173.8,415.3 L175.7,415.2 L177.7,415.1 L179.6,415.1 L181.6,415.1 L183.5,415.1 L185.4,415.2 L187.3,415.2 L189.1,415.4 L190.9,415.5 L192.6,415.7 L194.2,415.8 L195.7,416.1 L197.2,416.3 L198.5,416.5 L199.8,416.8 L200.9,417.1 L201.9,417.4 L202.8,417.8 L203.6,418.1 L204.2,418.5 L204.7,418.8 L205.1,419.2 L205.4,419.6Z" fill="none" stroke="#28a883" stroke-width="0.7" clip-path="url(#ccc)"/>
<path d="M203.2,420.0 L203.2,420.3 L203.0,420.7 L202.8,421.1 L202.4,421.4 L201.9,421.8 L201.3,422.1 L200.6,422.4 L199.7,422.8 L198.8,423.1 L197.8,423.4 L196.7,423.7 L195.5,423.9 L194.2,424.2 L192.8,424.4 L191.4,424.7 L189.9,424.9 L188.4,425.0 L186.8,425.2 L185.2,425.3 L183.5,425.5 L181.8,425.6 L180.1,425.6 L178.4,425.7 L176.7,425.7 L175.0,425.7 L173.3,425.7 L171.7,425.6 L170.0,425.6 L168.4,425.5 L166.9,425.4 L165.4,425.2 L164.0,425.1 L162.6,424.9 L161.3,424.7 L160.1,424.5 L158.9,424.2 L157.9,424.0 L156.9,423.7 L156.0,423.4 L155.3,423.1 L154.6,422.8 L154.1,422.5 L153.7,422.2 L153.4,421.8 L153.2,421.5 L153.1,421.1 L153.1,420.8 L153.3,420.4 L153.6,420.1 L154.0,419.7 L154.6,419.4 L155.2,419.0 L156.0,418.7 L156.9,418.4 L157.8,418.0 L158.9,417.7 L160.1,417.5 L161.4,417.2 L162.8,416.9 L164.2,416.7 L165.7,416.5 L167.3,416.3 L168.9,416.1 L170.6,415.9 L172.4,415.8 L174.1,415.7 L175.9,415.6 L177.7,415.6 L179.5,415.5 L181.3,415.5 L183.0,415.5 L184.8,415.6 L186.5,415.7 L188.2,415.8 L189.8,415.9 L191.3,416.0 L192.8,416.2 L194.2,416.4 L195.6,416.6 L196.8,416.9 L198.0,417.1 L199.0,417.4 L199.9,417.7 L200.8,418.0 L201.5,418.3 L202.1,418.6 L202.5,418.9 L202.9,419.3 L203.1,419.6Z" fill="none" stroke="#32b37b" stroke-width="0.7" clip-path="url(#ccc)"/>
<path d="M200.9,420.0 L200.9,420.3 L200.8,420.7 L200.6,421.0 L200.2,421.3 L199.8,421.6 L199.2,421.9 L198.5,422.2 L197.8,422.5 L196.9,422.8 L196.0,423.1 L195.0,423.4 L193.9,423.6 L192.7,423.8 L191.5,424.1 L190.2,424.3 L188.8,424.5 L187.4,424.6 L186.0,424.8 L184.5,424.9 L183.0,425.0 L181.5,425.1 L179.9,425.2 L178.4,425.2 L176.8,425.2 L175.3,425.2 L173.7,425.2 L172.2,425.2 L170.7,425.1 L169.3,425.0 L167.9,424.9 L166.5,424.8 L165.2,424.7 L163.9,424.5 L162.7,424.3 L161.6,424.1 L160.6,423.9 L159.6,423.7 L158.8,423.4 L158.0,423.2 L157.3,422.9 L156.7,422.6 L156.2,422.3 L155.8,422.0 L155.5,421.7 L155.4,421.4 L155.3,421.1 L155.4,420.7 L155.5,420.4 L155.8,420.1 L156.2,419.8 L156.7,419.5 L157.3,419.1 L158.0,418.8 L158.8,418.5 L159.7,418.3 L160.7,418.0 L161.7,417.7 L162.9,417.5 L164.2,417.2 L165.5,417.0 L166.8,416.8 L168.3,416.6 L169.8,416.5 L171.3,416.3 L172.9,416.2 L174.5,416.1 L176.1,416.0 L177.7,416.0 L179.3,416.0 L181.0,416.0 L182.6,416.0 L184.2,416.0 L185.7,416.1 L187.2,416.2 L188.7,416.3 L190.1,416.4 L191.5,416.6 L192.8,416.8 L194.0,417.0 L195.1,417.2 L196.1,417.4 L197.1,417.6 L197.9,417.9 L198.7,418.2 L199.3,418.5 L199.9,418.8 L200.3,419.1 L200.6,419.4 L200.8,419.7Z" fill="none" stroke="#46be6f" stroke-width="0.7" clip-path="url(#ccc)"/>
<path d="M198.6,420.1 L198.6,420.3 L198.5,420.6 L198.3,420.9 L197.9,421.2 L197.5,421.5 L197.1,421.8 L196.5,422.0 L195.8,422.3 L195.0,422.6 L194.2,422.8 L193.3,423.1 L192.3,423.3 L191.3,423.5 L190.1,423.7 L189.0,423.9 L187.8,424.0 L186.5,424.2 L185.2,424.3 L183.9,424.4 L182.5,424.5 L181.1,424.6 L179.7,424.7 L178.3,424.7 L176.9,424.7 L175.5,424.7 L174.2,424.7 L172.8,424.7 L171.5,424.6 L170.1,424.6 L168.9,424.5 L167.6,424.4 L166.5,424.2 L165.3,424.1 L164.3,423.9 L163.3,423.7 L162.3,423.5 L161.5,423.3 L160.7,423.1 L160.0,422.9 L159.4,422.6 L158.8,422.4 L158.4,422.1 L158.1,421.8 L157.8,421.6 L157.7,421.3 L157.6,421.0 L157.7,420.7 L157.8,420.4 L158.1,420.1 L158.4,419.8 L158.9,419.5 L159.4,419.3 L160.0,419.0 L160.7,418.7 L161.6,418.5 L162.4,418.2 L163.4,418.0 L164.5,417.8 L165.6,417.6 L166.8,417.4 L168.0,417.2 L169.3,417.0 L170.6,416.9 L172.0,416.7 L173.4,416.6 L174.8,416.6 L176.3,416.5 L177.7,416.4 L179.2,416.4 L180.7,416.4 L182.1,416.4 L183.5,416.5 L184.9,416.5 L186.3,416.6 L187.6,416.7 L188.9,416.8 L190.1,417.0 L191.2,417.1 L192.3,417.3 L193.3,417.5 L194.3,417.7 L195.1,417.9 L195.9,418.2 L196.5,418.4 L197.1,418.7 L197.6,418.9 L198.0,419.2 L198.3,419.5 L198.5,419.8Z" fill="none" stroke="#5fc761" stroke-width="0.7" clip-path="url(#ccc)"/>
<path d="M196.1,420.1 L196.1,420.3 L196.0,420.6 L195.8,420.9 L195.6,421.1 L195.2,421.4 L194.8,421.6 L194.3,421.9 L193.7,422.1 L193.0,422.3 L192.3,422.5 L191.5,422.7 L190.6,422.9 L189.7,423.1 L188.7,423.3 L187.7,423.5 L186.6,423.6 L185.5,423.7 L184.3,423.9 L183.2,424.0 L182.0,424.1 L180.8,424.1 L179.5,424.2 L178.3,424.2 L177.1,424.2 L175.8,424.2 L174.6,424.2 L173.4,424.2 L172.2,424.1 L171.1,424.1 L169.9,424.0 L168.9,423.9 L167.8,423.8 L166.8,423.6 L165.9,423.5 L165.0,423.3 L164.2,423.2 L163.4,423.0 L162.7,422.8 L162.1,422.6 L161.6,422.4 L161.1,422.1 L160.7,421.9 L160.4,421.7 L160.2,421.4 L160.1,421.2 L160.0,420.9 L160.1,420.7 L160.2,420.4 L160.4,420.2 L160.7,419.9 L161.1,419.6 L161.6,419.4 L162.2,419.2 L162.8,418.9 L163.5,418.7 L164.3,418.5 L165.2,418.3 L166.1,418.1 L167.1,417.9 L168.1,417.7 L169.2,417.6 L170.3,417.4 L171.5,417.3 L172.7,417.2 L174.0,417.1 L175.2,417.0 L176.5,417.0 L177.8,416.9 L179.1,416.9 L180.3,416.9 L181.6,416.9 L182.8,416.9 L184.1,417.0 L185.3,417.1 L186.4,417.2 L187.5,417.3 L188.6,417.4 L189.6,417.5 L190.6,417.7 L191.5,417.8 L192.3,418.0 L193.0,418.2 L193.7,418.4 L194.3,418.6 L194.8,418.9 L195.3,419.1 L195.6,419.3 L195.9,419.6 L196.0,419.8Z" fill="none" stroke="#7bd050" stroke-width="0.7" clip-path="url(#ccc)"/>
<path d="M193.5,420.1 L193.5,420.4 L193.4,420.6 L193.2,420.8 L193.0,421.0 L192.7,421.2 L192.3,421.4 L191.9,421.6 L191.4,421.8 L190.8,422.0 L190.2,422.2 L189.5,422.4 L188.8,422.6 L188.0,422.7 L187.2,422.9 L186.3,423.0 L185.4,423.1 L184.4,423.3 L183.4,423.4 L182.4,423.5 L181.4,423.5 L180.4,423.6 L179.3,423.6 L178.2,423.7 L177.2,423.7 L176.1,423.7 L175.1,423.7 L174.1,423.6 L173.1,423.6 L172.1,423.5 L171.1,423.5 L170.2,423.4 L169.3,423.3 L168.4,423.2 L167.6,423.1 L166.9,422.9 L166.2,422.8 L165.5,422.6 L164.9,422.4 L164.4,422.3 L164.0,422.1 L163.6,421.9 L163.2,421.7 L163.0,421.5 L162.8,421.3 L162.7,421.1 L162.7,420.8 L162.7,420.6 L162.8,420.4 L163.0,420.2 L163.3,420.0 L163.6,419.8 L164.0,419.6 L164.5,419.3 L165.0,419.1 L165.7,419.0 L166.3,418.8 L167.1,418.6 L167.9,418.4 L168.7,418.3 L169.6,418.1 L170.5,418.0 L171.5,417.9 L172.5,417.8 L173.5,417.7 L174.6,417.6 L175.6,417.5 L176.7,417.5 L177.8,417.4 L178.9,417.4 L180.0,417.4 L181.1,417.4 L182.1,417.5 L183.2,417.5 L184.2,417.6 L185.2,417.6 L186.1,417.7 L187.0,417.8 L187.9,418.0 L188.7,418.1 L189.5,418.2 L190.2,418.4 L190.8,418.5 L191.4,418.7 L191.9,418.9 L192.3,419.1 L192.7,419.3 L193.0,419.5 L193.2,419.7 L193.4,419.9Z" fill="none" stroke="#afe063" stroke-width="0.7" clip-path="url(#ccc)"/>
<path d="M190.4,420.2 L190.4,420.4 L190.4,420.5 L190.3,420.7 L190.1,420.9 L189.8,421.1 L189.6,421.2 L189.2,421.4 L188.8,421.6 L188.3,421.7 L187.8,421.9 L187.3,422.0 L186.7,422.2 L186.1,422.3 L185.4,422.4 L184.7,422.5 L183.9,422.6 L183.2,422.7 L182.4,422.8 L181.6,422.9 L180.7,422.9 L179.9,423.0 L179.1,423.0 L178.2,423.0 L177.3,423.1 L176.5,423.1 L175.6,423.0 L174.8,423.0 L174.0,423.0 L173.2,422.9 L172.4,422.9 L171.7,422.8 L171.0,422.7 L170.3,422.6 L169.6,422.5 L169.0,422.4 L168.5,422.3 L167.9,422.2 L167.5,422.1 L167.0,421.9 L166.7,421.8 L166.4,421.6 L166.1,421.4 L165.9,421.3 L165.7,421.1 L165.7,420.9 L165.6,420.8 L165.7,420.6 L165.8,420.4 L165.9,420.2 L166.1,420.1 L166.4,419.9 L166.8,419.7 L167.1,419.6 L167.6,419.4 L168.1,419.2 L168.6,419.1 L169.2,419.0 L169.8,418.8 L170.5,418.7 L171.2,418.6 L172.0,418.5 L172.8,418.4 L173.6,418.3 L174.4,418.2 L175.2,418.2 L176.1,418.1 L177.0,418.1 L177.8,418.0 L178.7,418.0 L179.6,418.0 L180.5,418.0 L181.3,418.1 L182.1,418.1 L183.0,418.1 L183.8,418.2 L184.5,418.3 L185.2,418.4 L185.9,418.4 L186.6,418.6 L187.2,418.7 L187.8,418.8 L188.3,418.9 L188.8,419.1 L189.2,419.2 L189.5,419.4 L189.8,419.5 L190.1,419.7 L190.3,419.9 L190.4,420.0Z" fill="none" stroke="#d6ec80" stroke-width="0.7" clip-path="url(#ccc)"/>
<path d="M186.7,420.3 L186.7,420.4 L186.6,420.5 L186.6,420.7 L186.4,420.8 L186.3,420.9 L186.1,421.0 L185.8,421.1 L185.5,421.2 L185.2,421.4 L184.9,421.5 L184.5,421.6 L184.1,421.7 L183.6,421.7 L183.2,421.8 L182.7,421.9 L182.2,422.0 L181.6,422.0 L181.1,422.1 L180.5,422.2 L179.9,422.2 L179.3,422.2 L178.7,422.3 L178.1,422.3 L177.5,422.3 L176.9,422.3 L176.4,422.3 L175.8,422.3 L175.2,422.2 L174.6,422.2 L174.1,422.2 L173.6,422.1 L173.1,422.1 L172.6,422.0 L172.1,421.9 L171.7,421.9 L171.3,421.8 L171.0,421.7 L170.6,421.6 L170.3,421.5 L170.1,421.4 L169.9,421.3 L169.7,421.2 L169.5,421.0 L169.4,420.9 L169.4,420.8 L169.4,420.7 L169.4,420.6 L169.5,420.4 L169.6,420.3 L169.7,420.2 L169.9,420.1 L170.2,420.0 L170.4,419.8 L170.7,419.7 L171.1,419.6 L171.5,419.5 L171.9,419.4 L172.3,419.3 L172.8,419.2 L173.3,419.2 L173.8,419.1 L174.4,419.0 L174.9,419.0 L175.5,418.9 L176.1,418.9 L176.7,418.8 L177.3,418.8 L177.9,418.8 L178.5,418.8 L179.1,418.8 L179.7,418.8 L180.3,418.8 L180.9,418.8 L181.4,418.8 L182.0,418.9 L182.5,418.9 L183.0,419.0 L183.5,419.1 L184.0,419.1 L184.4,419.2 L184.8,419.3 L185.2,419.4 L185.5,419.5 L185.8,419.6 L186.0,419.7 L186.2,419.8 L186.4,419.9 L186.5,420.0 L186.6,420.2Z" fill="none" stroke="#f1f4a9" stroke-width="0.7" clip-path="url(#ccc)"/>
<linearGradient id="bgc" gradientUnits="userSpaceOnUse" x1="0" y1="427" x2="0" y2="594"><stop offset="0.000" stop-color="#e9e527"/><stop offset="0.100" stop-color="#aadc32"/><stop offset="0.200" stop-color="#6ccd5a"/><stop offset="0.300" stop-color="#3bb976"/><stop offset="0.400" stop-color="#24a485"/><stop offset="0.500" stop-color="#238c8c"/><stop offset="0.600" stop-color="#2c758e"/><stop offset="0.700" stop-color="#365d8c"/><stop offset="0.800" stop-color="#414185"/><stop offset="0.850" stop-color="#492c7b"/><stop offset="0.900" stop-color="#4f1d74"/><stop offset="0.950" stop-color="#52136f"/><stop offset="1.000" stop-color="#581474"/></linearGradient>
<path d="M69.5,593.3 L84.9,591.3 L92.0,589.2 L96.9,587.1 L100.7,585.0 L103.9,582.9 L106.6,580.9 L109.0,578.8 L111.1,576.7 L113.1,574.6 L114.9,572.5 L116.5,570.5 L118.1,568.4 L119.5,566.3 L120.9,564.2 L122.2,562.1 L123.4,560.1 L124.6,558.0 L125.7,555.9 L126.8,553.8 L127.8,551.7 L128.8,549.7 L129.8,547.6 L130.7,545.5 L131.7,543.4 L132.5,541.4 L133.4,539.3 L134.3,537.2 L135.1,535.1 L135.9,533.0 L136.7,531.0 L137.5,528.9 L138.2,526.8 L139.0,524.7 L139.7,522.6 L140.5,520.6 L141.2,518.5 L141.9,516.4 L142.7,514.3 L143.4,512.2 L144.1,510.2 L144.8,508.1 L145.5,506.0 L146.2,503.9 L146.9,501.8 L147.6,499.8 L148.3,497.7 L149.0,495.6 L149.7,493.5 L150.4,491.5 L151.1,489.4 L151.7,487.3 L152.4,485.2 L153.1,483.1 L153.8,481.1 L154.6,479.0 L155.3,476.9 L156.0,474.8 L156.7,472.7 L157.4,470.7 L158.1,468.6 L158.9,466.5 L159.6,464.4 L160.4,462.3 L161.1,460.3 L161.9,458.2 L162.6,456.1 L163.4,454.0 L164.2,451.9 L165.0,449.9 L165.9,447.8 L166.7,445.7 L167.6,443.6 L168.5,441.6 L169.4,439.5 L170.4,437.4 L171.4,435.3 L172.6,433.2 L173.8,431.2 L175.4,429.1 L179.0,427.0 L179.0,427.0 L182.5,429.1 L184.0,431.2 L185.2,433.2 L186.3,435.3 L187.2,437.4 L188.1,439.5 L189.0,441.6 L189.8,443.6 L190.6,445.7 L191.4,447.8 L192.1,449.9 L192.8,451.9 L193.6,454.0 L194.3,456.1 L195.0,458.2 L195.7,460.3 L196.4,462.3 L197.0,464.4 L197.7,466.5 L198.4,468.6 L199.0,470.7 L199.7,472.7 L200.4,474.8 L201.0,476.9 L201.7,479.0 L202.3,481.1 L203.0,483.1 L203.6,485.2 L204.2,487.3 L204.9,489.4 L205.5,491.5 L206.2,493.5 L206.8,495.6 L207.5,497.7 L208.1,499.8 L208.7,501.8 L209.4,503.9 L210.0,506.0 L210.7,508.1 L211.4,510.2 L212.0,512.2 L212.7,514.3 L213.4,516.4 L214.1,518.5 L214.8,520.6 L215.5,522.6 L216.2,524.7 L216.9,526.8 L217.6,528.9 L218.4,531.0 L219.2,533.0 L219.9,535.1 L220.7,537.2 L221.6,539.3 L222.4,541.4 L223.3,543.4 L224.1,545.5 L225.1,547.6 L226.0,549.7 L227.0,551.7 L228.0,553.8 L229.1,555.9 L230.2,558.0 L231.3,560.1 L232.5,562.1 L233.8,564.2 L235.2,566.3 L236.6,568.4 L238.1,570.5 L239.8,572.5 L241.6,574.6 L243.5,576.7 L245.7,578.8 L248.0,580.9 L250.8,582.9 L253.9,585.0 L257.7,587.1 L262.6,589.2 L269.7,591.3 L285.1,593.3 Z" fill="url(#bgc)"/>
<path d="M58,593.4 L95,593.3 L110,593.6 L250,593.6 L262,593.3 L278,593.4 L278,594.4 L262,594.8 L250,595.8 L110,595.8 L95,594.8 L58,594.4 Z" fill="#3c0c52"/>
<text transform="translate(51.0,597.5) rotate(0.04) scale(1.05,1)" font-family="Liberation Sans" font-size="10.5" text-anchor="middle" fill="#444" >0</text>
<text transform="translate(56.5,422.5) rotate(50) scale(1.05,1)" font-family="Liberation Sans" font-size="10.5" text-anchor="middle" fill="#444" >0.2</text>
<text transform="translate(52.2,506.5) rotate(50) scale(1.05,1)" font-family="Liberation Sans" font-size="10.5" text-anchor="middle" fill="#444" >0.1</text>
<text transform="translate(62.2,618.0) rotate(-90) scale(1.05,1)" font-family="Liberation Sans" font-size="10.5" text-anchor="middle" fill="#444" >−2</text>
<text transform="translate(72.2,618.0) rotate(-90) scale(1.05,1)" font-family="Liberation Sans" font-size="10.5" text-anchor="middle" fill="#444" >−1</text>
<text transform="translate(80.4,618.0) rotate(-90) scale(1.05,1)" font-family="Liberation Sans" font-size="10.5" text-anchor="middle" fill="#444" >0</text>
<text transform="translate(87.9,618.0) rotate(-90) scale(1.05,1)" font-family="Liberation Sans" font-size="10.5" text-anchor="middle" fill="#444" >1</text>
<text transform="translate(96.3,618.0) rotate(-90) scale(1.05,1)" font-family="Liberation Sans" font-size="10.5" text-anchor="middle" fill="#444" >2</text>
<text transform="translate(102.7,618.0) rotate(-90) scale(1.05,1)" font-family="Liberation Sans" font-size="10.5" text-anchor="middle" fill="#444" >3</text>
<text transform="translate(108.0,618.0) rotate(-90) scale(1.05,1)" font-family="Liberation Sans" font-size="10.5" text-anchor="middle" fill="#444" >4</text>
<text transform="translate(114.3,612.0) rotate(-90) scale(1.05,1)" font-family="Liberation Sans" font-size="10.5" text-anchor="middle" fill="#444" >−1</text>
<text transform="translate(138.3,614.7) rotate(-90) scale(1.05,1)" font-family="Liberation Sans" font-size="10.5" text-anchor="middle" fill="#444" >0</text>
<text transform="translate(163.3,614.7) rotate(-90) scale(1.05,1)" font-family="Liberation Sans" font-size="10.5" text-anchor="middle" fill="#444" >1</text>
<text transform="translate(187.9,614.7) rotate(-90) scale(1.05,1)" font-family="Liberation Sans" font-size="10.5" text-anchor="middle" fill="#444" >2</text>
<text transform="translate(212.7,614.7) rotate(-90) scale(1.05,1)" font-family="Liberation Sans" font-size="10.5" text-anchor="middle" fill="#444" >3</text>
<text transform="translate(237.7,614.7) rotate(-90) scale(1.05,1)" font-family="Liberation Sans" font-size="10.5" text-anchor="middle" fill="#444" >4</text>
<text transform="translate(263.7,614.7) rotate(-90) scale(1.05,1)" font-family="Liberation Sans" font-size="10.5" text-anchor="middle" fill="#444" >5</text>
<text transform="translate(183.8,641.0) rotate(0.04)" font-family="Liberation Sans" font-size="11.6" text-anchor="middle" fill="#444" >Guilty suspect strength</text>
<text transform="translate(49.3,477.5) rotate(-87)" font-family="Liberation Sans" font-size="11.4" text-anchor="middle" fill="#444" >Probability density</text>
<text transform="translate(530.9,362.3) rotate(0.04)" font-family="Liberation Serif" font-size="20" text-anchor="middle" fill="#111" >(d)</text>
<line x1="458.1" y1="595.6" x2="460.4" y2="448.5" stroke="#ececec" stroke-width="0.8" />
<line x1="482.6" y1="595.6" x2="484.4" y2="448.5" stroke="#ececec" stroke-width="0.8" />
<line x1="507.2" y1="595.6" x2="508.4" y2="448.5" stroke="#ececec" stroke-width="0.8" />
<line x1="531.8" y1="595.6" x2="532.5" y2="448.5" stroke="#ececec" stroke-width="0.8" />
<line x1="556.3" y1="595.6" x2="556.5" y2="448.5" stroke="#ececec" stroke-width="0.8" />
<line x1="580.9" y1="595.6" x2="580.5" y2="448.5" stroke="#ececec" stroke-width="0.8" />
<line x1="605.4" y1="595.6" x2="604.5" y2="448.5" stroke="#ececec" stroke-width="0.8" />
<line x1="455.0" y1="595.6" x2="457.4" y2="448.5" stroke="#ececec" stroke-width="0.8" />
<line x1="608.5" y1="595.6" x2="607.5" y2="448.5" stroke="#ececec" stroke-width="0.8" />
<line x1="456.0" y1="534.0" x2="608.1" y2="534.0" stroke="#ececec" stroke-width="0.8" />
<line x1="456.9" y1="478.8" x2="607.7" y2="478.8" stroke="#ececec" stroke-width="0.8" />
<line x1="457.4" y1="448.5" x2="607.5" y2="448.5" stroke="#ececec" stroke-width="0.8" />
<line x1="453.9" y1="595.6" x2="456.5" y2="446.8" stroke="#ececec" stroke-width="0.8" />
<line x1="449.9" y1="595.6" x2="453.1" y2="440.2" stroke="#ececec" stroke-width="0.8" />
<line x1="445.5" y1="595.6" x2="449.4" y2="432.9" stroke="#ececec" stroke-width="0.8" />
<line x1="440.5" y1="595.6" x2="445.3" y2="425.0" stroke="#ececec" stroke-width="0.8" />
<line x1="435.0" y1="595.6" x2="440.8" y2="416.3" stroke="#ececec" stroke-width="0.8" />
<line x1="428.8" y1="595.6" x2="435.8" y2="406.7" stroke="#ececec" stroke-width="0.8" />
<line x1="421.7" y1="595.6" x2="430.2" y2="395.9" stroke="#ececec" stroke-width="0.8" />
<line x1="421.0" y1="595.6" x2="429.7" y2="394.9" stroke="#ececec" stroke-width="0.8" />
<line x1="456.1" y1="530.4" x2="425.0" y2="504.1" stroke="#ececec" stroke-width="0.8" />
<line x1="456.9" y1="476.5" x2="428.1" y2="431.5" stroke="#ececec" stroke-width="0.8" />
<line x1="457.4" y1="448.5" x2="429.7" y2="394.9" stroke="#ececec" stroke-width="0.8" />
<line x1="456.5" y1="446.7" x2="608.3" y2="446.7" stroke="#ececec" stroke-width="0.8" />
<line x1="453.1" y1="440.1" x2="611.5" y2="440.1" stroke="#ececec" stroke-width="0.8" />
<line x1="449.3" y1="432.9" x2="614.9" y2="432.8" stroke="#ececec" stroke-width="0.8" />
<line x1="445.2" y1="424.9" x2="618.7" y2="424.9" stroke="#ececec" stroke-width="0.8" />
<line x1="440.7" y1="416.2" x2="622.8" y2="416.1" stroke="#ececec" stroke-width="0.8" />
<line x1="435.7" y1="406.6" x2="627.4" y2="406.5" stroke="#ececec" stroke-width="0.8" />
<line x1="430.2" y1="395.9" x2="632.5" y2="395.7" stroke="#ececec" stroke-width="0.8" />
<line x1="457.4" y1="448.5" x2="607.5" y2="448.5" stroke="#ececec" stroke-width="0.8" />
<line x1="429.7" y1="394.9" x2="633.0" y2="394.7" stroke="#ececec" stroke-width="0.8" />
<line x1="460.4" y1="448.5" x2="433.8" y2="394.9" stroke="#ececec" stroke-width="0.8" />
<line x1="484.4" y1="448.5" x2="466.2" y2="394.9" stroke="#ececec" stroke-width="0.8" />
<line x1="508.3" y1="448.5" x2="498.7" y2="394.8" stroke="#ececec" stroke-width="0.8" />
<line x1="532.3" y1="448.5" x2="531.2" y2="394.8" stroke="#ececec" stroke-width="0.8" />
<line x1="556.4" y1="448.5" x2="563.7" y2="394.8" stroke="#ececec" stroke-width="0.8" />
<line x1="580.4" y1="448.5" x2="596.3" y2="394.7" stroke="#ececec" stroke-width="0.8" />
<line x1="604.5" y1="448.5" x2="628.9" y2="394.7" stroke="#ececec" stroke-width="0.8" />
<line x1="457.4" y1="448.5" x2="429.7" y2="394.9" stroke="#ececec" stroke-width="0.8" />
<line x1="607.5" y1="448.5" x2="633.0" y2="394.7" stroke="#ececec" stroke-width="0.8" />
<line x1="453.1" y1="440.1" x2="611.5" y2="440.1" stroke="#a6a6a6" stroke-width="1" />
<line x1="449.9" y1="595.6" x2="453.1" y2="440.2" stroke="#a6a6a6" stroke-width="1" />
<line x1="508.3" y1="448.5" x2="498.7" y2="394.8" stroke="#a6a6a6" stroke-width="1" />
<line x1="507.2" y1="595.6" x2="508.4" y2="448.5" stroke="#a6a6a6" stroke-width="1" />
<clipPath id="ccd"><polygon points="457.4,448.5 429.7,394.9 633,394.7 607.5,448.5"/></clipPath>
<path d="M542.8,387.7 L547.9,387.8 L553.0,388.1 L558.0,388.7 L562.9,389.4 L567.6,390.4 L572.1,391.5 L576.5,392.8 L580.5,394.3 L584.4,395.9 L587.9,397.7 L591.1,399.6 L593.9,401.6 L596.5,403.6 L598.7,405.8 L600.6,408.0 L602.1,410.2 L603.2,412.5 L604.1,414.8 L604.6,417.0 L604.8,419.3 L604.7,421.5 L604.2,423.7 L603.5,425.8 L602.6,427.9 L601.3,429.9 L599.8,431.9 L598.1,433.7 L596.2,435.5 L594.1,437.2 L591.8,438.9 L589.3,440.4 L586.7,441.8 L583.9,443.1 L581.0,444.3 L578.0,445.5 L574.9,446.5 L571.7,447.4 L568.3,448.2 L565.0,448.9 L561.5,449.5 L558.0,450.0 L554.5,450.4 L551.0,450.6 L547.4,450.8 L543.8,450.8 L540.2,450.8 L536.6,450.6 L533.0,450.4 L529.5,450.0 L526.0,449.5 L522.5,448.9 L519.2,448.2 L515.8,447.4 L512.6,446.5 L509.4,445.5 L506.4,444.3 L503.5,443.1 L500.6,441.8 L498.0,440.4 L495.5,438.9 L493.1,437.3 L491.0,435.6 L489.0,433.8 L487.2,431.9 L485.7,430.0 L484.4,428.0 L483.4,425.9 L482.6,423.7 L482.1,421.6 L481.9,419.3 L482.1,417.1 L482.5,414.8 L483.3,412.6 L484.4,410.3 L485.8,408.1 L487.6,405.9 L489.7,403.7 L492.2,401.7 L495.0,399.7 L498.1,397.8 L501.6,396.0 L505.3,394.4 L509.3,392.9 L513.6,391.6 L518.1,390.4 L522.8,389.5 L527.7,388.7 L532.6,388.2 L537.7,387.8Z" fill="none" stroke="#462557" stroke-width="1.0" clip-path="url(#ccd)"/>
<path d="M537.7,403.2 L541.1,403.3 L544.4,403.4 L547.7,403.7 L551.0,404.1 L554.1,404.7 L557.2,405.3 L560.1,406.0 L562.9,406.8 L565.6,407.7 L568.1,408.7 L570.4,409.8 L572.5,410.9 L574.4,412.1 L576.1,413.3 L577.6,414.6 L578.9,415.9 L579.9,417.3 L580.7,418.6 L581.3,420.0 L581.7,421.4 L581.9,422.7 L581.8,424.1 L581.5,425.4 L581.1,426.8 L580.4,428.1 L579.6,429.3 L578.5,430.5 L577.3,431.7 L576.0,432.8 L574.5,433.9 L572.8,434.9 L571.0,435.9 L569.1,436.8 L567.0,437.6 L564.9,438.4 L562.6,439.1 L560.3,439.7 L557.9,440.3 L555.4,440.7 L552.9,441.2 L550.3,441.5 L547.7,441.8 L545.0,442.0 L542.3,442.1 L539.6,442.1 L536.9,442.1 L534.2,442.0 L531.5,441.8 L528.9,441.5 L526.3,441.2 L523.7,440.7 L521.2,440.3 L518.7,439.7 L516.3,439.1 L514.0,438.4 L511.8,437.6 L509.7,436.8 L507.7,435.9 L505.8,434.9 L504.0,433.9 L502.4,432.8 L500.9,431.7 L499.6,430.5 L498.5,429.3 L497.5,428.1 L496.7,426.8 L496.1,425.5 L495.7,424.1 L495.5,422.8 L495.6,421.4 L495.8,420.0 L496.3,418.7 L496.9,417.3 L497.8,416.0 L499.0,414.7 L500.3,413.4 L501.9,412.1 L503.7,410.9 L505.7,409.8 L507.9,408.7 L510.3,407.8 L512.8,406.8 L515.5,406.0 L518.4,405.3 L521.4,404.7 L524.5,404.2 L527.7,403.8 L531.0,403.5 L534.3,403.3Z" fill="none" stroke="#472360" stroke-width="0.85" clip-path="url(#ccd)"/>
<path d="M536.6,406.2 L539.5,406.2 L542.4,406.4 L545.3,406.6 L548.1,406.9 L550.9,407.4 L553.5,407.9 L556.1,408.5 L558.5,409.2 L560.8,410.0 L563.0,410.8 L565.0,411.8 L566.9,412.7 L568.6,413.8 L570.1,414.8 L571.4,415.9 L572.6,417.1 L573.5,418.2 L574.3,419.4 L574.8,420.6 L575.2,421.8 L575.4,423.0 L575.4,424.2 L575.2,425.4 L574.8,426.5 L574.3,427.7 L573.6,428.8 L572.7,429.8 L571.7,430.9 L570.5,431.9 L569.2,432.8 L567.8,433.7 L566.2,434.6 L564.5,435.4 L562.8,436.1 L560.9,436.8 L558.9,437.4 L556.9,438.0 L554.7,438.5 L552.5,438.9 L550.3,439.3 L548.0,439.6 L545.7,439.9 L543.3,440.0 L540.9,440.1 L538.5,440.2 L536.1,440.1 L533.7,440.0 L531.4,439.9 L529.0,439.6 L526.7,439.3 L524.4,438.9 L522.2,438.5 L520.0,438.0 L517.9,437.4 L515.8,436.8 L513.9,436.1 L512.0,435.4 L510.3,434.6 L508.6,433.7 L507.1,432.8 L505.7,431.9 L504.4,430.9 L503.2,429.9 L502.3,428.8 L501.4,427.7 L500.8,426.6 L500.3,425.4 L500.0,424.2 L499.8,423.0 L499.9,421.8 L500.1,420.6 L500.5,419.4 L501.2,418.3 L502.0,417.1 L503.0,416.0 L504.2,414.9 L505.6,413.8 L507.1,412.8 L508.9,411.8 L510.8,410.9 L512.9,410.0 L515.1,409.3 L517.5,408.6 L520.0,407.9 L522.6,407.4 L525.3,407.0 L528.0,406.6 L530.9,406.4 L533.7,406.2Z" fill="none" stroke="#482f6a" stroke-width="0.85" clip-path="url(#ccd)"/>
<path d="M536.1,408.0 L538.7,408.1 L541.3,408.2 L543.8,408.4 L546.4,408.7 L548.8,409.1 L551.2,409.6 L553.5,410.2 L555.8,410.8 L557.9,411.5 L559.8,412.2 L561.7,413.0 L563.4,413.9 L564.9,414.8 L566.3,415.8 L567.5,416.8 L568.6,417.8 L569.4,418.9 L570.1,419.9 L570.7,421.0 L571.0,422.1 L571.2,423.2 L571.3,424.2 L571.1,425.3 L570.8,426.4 L570.3,427.4 L569.7,428.4 L569.0,429.4 L568.0,430.3 L567.0,431.2 L565.8,432.1 L564.5,432.9 L563.1,433.7 L561.6,434.5 L560.0,435.1 L558.3,435.8 L556.5,436.3 L554.6,436.9 L552.7,437.3 L550.7,437.7 L548.6,438.1 L546.5,438.3 L544.4,438.6 L542.2,438.7 L540.1,438.8 L537.9,438.9 L535.7,438.8 L533.5,438.7 L531.3,438.6 L529.2,438.4 L527.0,438.1 L525.0,437.7 L522.9,437.3 L520.9,436.9 L519.0,436.3 L517.1,435.8 L515.4,435.1 L513.7,434.5 L512.1,433.7 L510.6,433.0 L509.2,432.1 L507.9,431.3 L506.7,430.3 L505.7,429.4 L504.8,428.4 L504.1,427.4 L503.5,426.4 L503.1,425.3 L502.8,424.3 L502.7,423.2 L502.8,422.1 L503.0,421.0 L503.4,420.0 L504.0,418.9 L504.7,417.8 L505.7,416.8 L506.8,415.8 L508.0,414.9 L509.5,413.9 L511.1,413.1 L512.8,412.3 L514.7,411.5 L516.7,410.8 L518.8,410.2 L521.1,409.6 L523.4,409.2 L525.8,408.8 L528.3,408.5 L530.9,408.2 L533.4,408.1Z" fill="none" stroke="#463971" stroke-width="0.85" clip-path="url(#ccd)"/>
<path d="M535.6,409.5 L538.0,409.5 L540.4,409.6 L542.8,409.8 L545.1,410.1 L547.3,410.5 L549.5,410.9 L551.7,411.4 L553.7,412.0 L555.6,412.6 L557.4,413.3 L559.1,414.0 L560.7,414.8 L562.1,415.7 L563.4,416.5 L564.5,417.4 L565.5,418.4 L566.3,419.3 L567.0,420.3 L567.5,421.3 L567.9,422.3 L568.1,423.3 L568.1,424.3 L568.0,425.3 L567.7,426.2 L567.3,427.2 L566.7,428.1 L566.1,429.0 L565.2,429.9 L564.3,430.7 L563.2,431.6 L562.0,432.3 L560.7,433.0 L559.3,433.7 L557.8,434.4 L556.3,434.9 L554.6,435.5 L552.9,436.0 L551.1,436.4 L549.3,436.8 L547.4,437.1 L545.4,437.4 L543.4,437.6 L541.4,437.7 L539.4,437.8 L537.4,437.8 L535.4,437.8 L533.3,437.7 L531.3,437.6 L529.3,437.4 L527.4,437.1 L525.4,436.8 L523.5,436.4 L521.7,436.0 L519.9,435.5 L518.2,435.0 L516.5,434.4 L515.0,433.7 L513.5,433.1 L512.1,432.3 L510.8,431.6 L509.7,430.8 L508.6,429.9 L507.7,429.0 L506.9,428.1 L506.2,427.2 L505.7,426.3 L505.3,425.3 L505.1,424.3 L505.0,423.3 L505.1,422.3 L505.3,421.3 L505.7,420.3 L506.2,419.4 L506.9,418.4 L507.8,417.5 L508.8,416.6 L510.0,415.7 L511.3,414.9 L512.8,414.1 L514.4,413.3 L516.1,412.6 L517.9,412.0 L519.9,411.4 L521.9,410.9 L524.1,410.5 L526.3,410.1 L528.6,409.9 L530.9,409.6 L533.3,409.5Z" fill="none" stroke="#434376" stroke-width="0.85" clip-path="url(#ccd)"/>
<path d="M535.3,410.7 L537.5,410.7 L539.7,410.8 L541.9,411.0 L544.0,411.3 L546.1,411.6 L548.2,412.0 L550.1,412.4 L552.0,413.0 L553.8,413.5 L555.5,414.2 L557.0,414.8 L558.5,415.6 L559.8,416.3 L561.0,417.2 L562.1,418.0 L563.0,418.9 L563.8,419.7 L564.4,420.6 L564.9,421.6 L565.2,422.5 L565.4,423.4 L565.5,424.3 L565.4,425.2 L565.1,426.1 L564.8,427.0 L564.3,427.9 L563.6,428.7 L562.9,429.5 L562.0,430.3 L561.0,431.1 L559.9,431.8 L558.7,432.5 L557.4,433.1 L556.1,433.7 L554.6,434.3 L553.1,434.8 L551.5,435.2 L549.8,435.6 L548.1,436.0 L546.3,436.3 L544.5,436.5 L542.7,436.7 L540.8,436.8 L538.9,436.9 L537.0,437.0 L535.1,436.9 L533.2,436.8 L531.4,436.7 L529.5,436.5 L527.7,436.3 L525.8,436.0 L524.1,435.6 L522.4,435.2 L520.7,434.8 L519.1,434.3 L517.6,433.7 L516.1,433.1 L514.8,432.5 L513.5,431.8 L512.3,431.1 L511.2,430.3 L510.2,429.6 L509.4,428.8 L508.6,427.9 L508.0,427.0 L507.5,426.2 L507.2,425.3 L507.0,424.3 L506.9,423.4 L507.0,422.5 L507.2,421.6 L507.6,420.7 L508.1,419.8 L508.8,418.9 L509.6,418.0 L510.5,417.2 L511.6,416.4 L512.8,415.6 L514.2,414.9 L515.7,414.2 L517.3,413.6 L519.0,413.0 L520.8,412.5 L522.7,412.0 L524.7,411.6 L526.7,411.3 L528.8,411.0 L531.0,410.8 L533.1,410.7Z" fill="none" stroke="#3b528a" stroke-width="0.85" clip-path="url(#ccd)"/>
<path d="M535.1,411.7 L537.1,411.7 L539.2,411.8 L541.2,412.0 L543.2,412.2 L545.1,412.5 L547.0,412.9 L548.8,413.3 L550.6,413.8 L552.2,414.3 L553.8,414.9 L555.3,415.6 L556.6,416.2 L557.8,416.9 L559.0,417.7 L560.0,418.5 L560.8,419.3 L561.6,420.1 L562.2,420.9 L562.6,421.8 L562.9,422.6 L563.1,423.5 L563.2,424.4 L563.1,425.2 L562.9,426.0 L562.6,426.9 L562.1,427.7 L561.5,428.5 L560.8,429.2 L560.0,430.0 L559.1,430.7 L558.1,431.3 L557.0,432.0 L555.8,432.6 L554.5,433.1 L553.1,433.6 L551.7,434.1 L550.2,434.5 L548.7,434.9 L547.1,435.3 L545.4,435.5 L543.7,435.8 L542.0,435.9 L540.2,436.1 L538.5,436.2 L536.7,436.2 L534.9,436.2 L533.2,436.1 L531.4,435.9 L529.7,435.8 L527.9,435.5 L526.2,435.3 L524.6,434.9 L523.0,434.6 L521.4,434.1 L519.9,433.7 L518.5,433.1 L517.2,432.6 L515.9,432.0 L514.7,431.4 L513.6,430.7 L512.6,430.0 L511.7,429.2 L510.9,428.5 L510.2,427.7 L509.6,426.9 L509.2,426.1 L508.9,425.2 L508.7,424.4 L508.6,423.5 L508.7,422.7 L508.9,421.8 L509.3,421.0 L509.8,420.1 L510.4,419.3 L511.2,418.5 L512.0,417.7 L513.1,417.0 L514.2,416.3 L515.5,415.6 L516.9,415.0 L518.3,414.4 L519.9,413.8 L521.6,413.3 L523.4,412.9 L525.2,412.6 L527.1,412.3 L529.1,412.0 L531.0,411.8 L533.1,411.7Z" fill="none" stroke="#355f8d" stroke-width="0.7" clip-path="url(#ccd)"/>
<path d="M534.9,412.6 L536.8,412.7 L538.7,412.8 L540.6,412.9 L542.4,413.1 L544.2,413.4 L546.0,413.7 L547.7,414.1 L549.3,414.6 L550.8,415.1 L552.3,415.6 L553.7,416.2 L554.9,416.8 L556.1,417.5 L557.1,418.2 L558.1,418.9 L558.9,419.7 L559.6,420.4 L560.1,421.2 L560.6,422.0 L560.9,422.8 L561.1,423.6 L561.1,424.4 L561.1,425.2 L560.9,426.0 L560.6,426.7 L560.2,427.5 L559.6,428.2 L559.0,428.9 L558.2,429.6 L557.4,430.3 L556.5,430.9 L555.4,431.5 L554.3,432.1 L553.1,432.6 L551.8,433.1 L550.5,433.5 L549.1,433.9 L547.6,434.3 L546.1,434.6 L544.6,434.9 L543.0,435.1 L541.4,435.3 L539.7,435.4 L538.1,435.4 L536.4,435.5 L534.8,435.4 L533.1,435.4 L531.5,435.3 L529.8,435.1 L528.2,434.9 L526.6,434.6 L525.1,434.3 L523.6,433.9 L522.1,433.5 L520.7,433.1 L519.4,432.6 L518.1,432.1 L516.9,431.5 L515.8,430.9 L514.8,430.3 L513.9,429.6 L513.0,429.0 L512.3,428.2 L511.7,427.5 L511.1,426.8 L510.7,426.0 L510.4,425.2 L510.3,424.4 L510.2,423.6 L510.3,422.8 L510.5,422.0 L510.8,421.2 L511.3,420.4 L511.9,419.7 L512.6,418.9 L513.4,418.2 L514.4,417.5 L515.5,416.9 L516.6,416.2 L517.9,415.6 L519.3,415.1 L520.8,414.6 L522.4,414.2 L524.0,413.8 L525.7,413.4 L527.5,413.1 L529.3,412.9 L531.1,412.8 L533.0,412.7Z" fill="none" stroke="#2f6c8e" stroke-width="0.7" clip-path="url(#ccd)"/>
<path d="M534.7,413.5 L536.5,413.5 L538.3,413.6 L540.0,413.7 L541.7,413.9 L543.4,414.2 L545.0,414.5 L546.6,414.9 L548.1,415.3 L549.6,415.7 L550.9,416.2 L552.2,416.8 L553.4,417.4 L554.5,418.0 L555.5,418.6 L556.3,419.3 L557.1,420.0 L557.8,420.7 L558.3,421.4 L558.7,422.2 L559.0,422.9 L559.2,423.7 L559.3,424.4 L559.2,425.2 L559.0,425.9 L558.8,426.6 L558.4,427.3 L557.9,428.0 L557.3,428.7 L556.6,429.3 L555.8,429.9 L554.9,430.5 L554.0,431.1 L552.9,431.6 L551.8,432.1 L550.6,432.6 L549.4,433.0 L548.1,433.4 L546.7,433.7 L545.3,434.0 L543.8,434.2 L542.3,434.4 L540.8,434.6 L539.3,434.7 L537.8,434.8 L536.2,434.8 L534.6,434.8 L533.1,434.7 L531.5,434.6 L530.0,434.4 L528.5,434.2 L527.0,434.0 L525.5,433.7 L524.1,433.4 L522.8,433.0 L521.5,432.6 L520.2,432.1 L519.0,431.6 L517.9,431.1 L516.9,430.5 L515.9,430.0 L515.1,429.3 L514.3,428.7 L513.6,428.0 L513.0,427.3 L512.5,426.6 L512.1,425.9 L511.9,425.2 L511.7,424.4 L511.7,423.7 L511.8,422.9 L512.0,422.2 L512.3,421.5 L512.7,420.7 L513.3,420.0 L514.0,419.3 L514.7,418.7 L515.6,418.0 L516.6,417.4 L517.7,416.8 L518.9,416.3 L520.2,415.8 L521.6,415.3 L523.1,414.9 L524.6,414.5 L526.2,414.2 L527.8,414.0 L529.5,413.8 L531.2,413.6 L533.0,413.5Z" fill="none" stroke="#2a788e" stroke-width="0.7" clip-path="url(#ccd)"/>
<path d="M534.6,414.3 L536.2,414.3 L537.9,414.4 L539.5,414.5 L541.1,414.7 L542.6,414.9 L544.2,415.2 L545.6,415.6 L547.0,416.0 L548.4,416.4 L549.7,416.8 L550.9,417.3 L552.0,417.9 L553.0,418.5 L553.9,419.1 L554.7,419.7 L555.4,420.3 L556.1,421.0 L556.6,421.7 L557.0,422.4 L557.2,423.0 L557.4,423.7 L557.5,424.4 L557.5,425.1 L557.3,425.8 L557.1,426.5 L556.7,427.2 L556.2,427.8 L555.7,428.4 L555.1,429.0 L554.3,429.6 L553.5,430.2 L552.6,430.7 L551.6,431.2 L550.6,431.6 L549.5,432.1 L548.3,432.5 L547.1,432.8 L545.8,433.1 L544.5,433.4 L543.1,433.6 L541.7,433.8 L540.3,434.0 L538.9,434.1 L537.4,434.2 L536.0,434.2 L534.5,434.2 L533.1,434.1 L531.6,434.0 L530.2,433.8 L528.7,433.6 L527.4,433.4 L526.0,433.1 L524.7,432.8 L523.4,432.5 L522.2,432.1 L521.0,431.7 L519.9,431.2 L518.9,430.7 L517.9,430.2 L517.0,429.6 L516.2,429.0 L515.5,428.4 L514.8,427.8 L514.3,427.2 L513.9,426.5 L513.5,425.8 L513.3,425.1 L513.1,424.5 L513.1,423.8 L513.2,423.1 L513.4,422.4 L513.7,421.7 L514.1,421.0 L514.6,420.3 L515.2,419.7 L516.0,419.1 L516.8,418.5 L517.7,417.9 L518.8,417.4 L519.9,416.9 L521.1,416.4 L522.4,416.0 L523.7,415.6 L525.2,415.2 L526.6,415.0 L528.2,414.7 L529.7,414.5 L531.3,414.4 L533.0,414.3Z" fill="none" stroke="#26848e" stroke-width="0.7" clip-path="url(#ccd)"/>
<path d="M534.5,415.0 L536.0,415.1 L537.5,415.1 L539.0,415.3 L540.5,415.4 L541.9,415.7 L543.4,415.9 L544.7,416.2 L546.0,416.6 L547.3,417.0 L548.5,417.4 L549.6,417.9 L550.6,418.4 L551.6,418.9 L552.4,419.5 L553.2,420.0 L553.9,420.6 L554.4,421.3 L554.9,421.9 L555.3,422.5 L555.6,423.2 L555.7,423.8 L555.8,424.5 L555.8,425.1 L555.6,425.7 L555.4,426.4 L555.1,427.0 L554.7,427.6 L554.2,428.2 L553.6,428.7 L552.9,429.3 L552.1,429.8 L551.3,430.3 L550.4,430.8 L549.4,431.2 L548.4,431.6 L547.3,432.0 L546.2,432.3 L545.0,432.6 L543.7,432.8 L542.5,433.1 L541.2,433.2 L539.8,433.4 L538.5,433.5 L537.1,433.6 L535.8,433.6 L534.4,433.6 L533.0,433.5 L531.7,433.4 L530.3,433.2 L529.0,433.1 L527.7,432.8 L526.5,432.6 L525.2,432.3 L524.0,432.0 L522.9,431.6 L521.8,431.2 L520.8,430.8 L519.8,430.3 L518.9,429.8 L518.1,429.3 L517.3,428.8 L516.6,428.2 L516.1,427.6 L515.6,427.0 L515.1,426.4 L514.8,425.8 L514.6,425.1 L514.5,424.5 L514.5,423.8 L514.5,423.2 L514.7,422.5 L515.0,421.9 L515.4,421.3 L515.9,420.7 L516.5,420.1 L517.2,419.5 L517.9,418.9 L518.8,418.4 L519.8,417.9 L520.8,417.4 L521.9,417.0 L523.1,416.6 L524.4,416.2 L525.7,415.9 L527.1,415.7 L528.5,415.4 L530.0,415.3 L531.5,415.1 L533.0,415.1Z" fill="none" stroke="#23908c" stroke-width="0.7" clip-path="url(#ccd)"/>
<path d="M534.4,415.8 L535.8,415.8 L537.2,415.9 L538.6,416.0 L539.9,416.1 L541.3,416.3 L542.6,416.6 L543.9,416.9 L545.1,417.2 L546.2,417.6 L547.3,418.0 L548.4,418.4 L549.3,418.8 L550.2,419.3 L551.0,419.9 L551.7,420.4 L552.3,420.9 L552.9,421.5 L553.3,422.1 L553.7,422.7 L553.9,423.3 L554.1,423.9 L554.2,424.5 L554.2,425.1 L554.0,425.7 L553.8,426.3 L553.5,426.8 L553.2,427.4 L552.7,427.9 L552.1,428.5 L551.5,429.0 L550.8,429.5 L550.0,429.9 L549.2,430.3 L548.3,430.8 L547.3,431.1 L546.3,431.5 L545.3,431.8 L544.2,432.1 L543.0,432.3 L541.8,432.5 L540.6,432.7 L539.4,432.8 L538.1,432.9 L536.9,433.0 L535.6,433.0 L534.3,433.0 L533.0,432.9 L531.8,432.8 L530.5,432.7 L529.3,432.5 L528.1,432.3 L526.9,432.1 L525.8,431.8 L524.7,431.5 L523.6,431.1 L522.6,430.8 L521.6,430.4 L520.7,429.9 L519.9,429.5 L519.1,429.0 L518.4,428.5 L517.8,428.0 L517.3,427.4 L516.8,426.9 L516.4,426.3 L516.1,425.7 L515.9,425.1 L515.8,424.5 L515.8,423.9 L515.9,423.3 L516.1,422.7 L516.3,422.1 L516.7,421.5 L517.1,421.0 L517.7,420.4 L518.3,419.9 L519.1,419.4 L519.9,418.9 L520.8,418.4 L521.7,418.0 L522.8,417.6 L523.9,417.2 L525.1,416.9 L526.3,416.6 L527.5,416.3 L528.9,416.1 L530.2,416.0 L531.6,415.9 L533.0,415.8Z" fill="none" stroke="#1f9c89" stroke-width="0.7" clip-path="url(#ccd)"/>
<path d="M534.3,416.5 L535.6,416.5 L536.9,416.6 L538.2,416.7 L539.4,416.8 L540.6,417.0 L541.9,417.2 L543.0,417.5 L544.1,417.8 L545.2,418.1 L546.2,418.5 L547.2,418.9 L548.1,419.3 L548.9,419.8 L549.6,420.2 L550.3,420.7 L550.9,421.2 L551.4,421.8 L551.8,422.3 L552.1,422.8 L552.4,423.4 L552.5,424.0 L552.6,424.5 L552.6,425.1 L552.5,425.6 L552.3,426.2 L552.0,426.7 L551.7,427.2 L551.2,427.7 L550.7,428.2 L550.2,428.7 L549.5,429.1 L548.8,429.5 L548.0,429.9 L547.2,430.3 L546.3,430.7 L545.4,431.0 L544.4,431.3 L543.4,431.5 L542.3,431.8 L541.2,431.9 L540.1,432.1 L538.9,432.2 L537.8,432.3 L536.6,432.4 L535.4,432.4 L534.2,432.4 L533.1,432.3 L531.9,432.2 L530.7,432.1 L529.6,431.9 L528.5,431.8 L527.4,431.5 L526.3,431.3 L525.3,431.0 L524.3,430.7 L523.4,430.3 L522.5,430.0 L521.6,429.6 L520.9,429.1 L520.2,428.7 L519.5,428.2 L518.9,427.7 L518.4,427.2 L518.0,426.7 L517.7,426.2 L517.4,425.6 L517.2,425.1 L517.1,424.5 L517.1,424.0 L517.2,423.4 L517.4,422.9 L517.6,422.3 L518.0,421.8 L518.4,421.3 L518.9,420.7 L519.5,420.3 L520.2,419.8 L520.9,419.3 L521.7,418.9 L522.6,418.5 L523.6,418.1 L524.6,417.8 L525.7,417.5 L526.8,417.2 L528.0,417.0 L529.2,416.8 L530.4,416.7 L531.7,416.6 L533.0,416.5Z" fill="none" stroke="#28a883" stroke-width="0.7" clip-path="url(#ccd)"/>
<path d="M534.2,417.2 L535.4,417.2 L536.6,417.3 L537.7,417.4 L538.9,417.5 L540.0,417.7 L541.1,417.9 L542.2,418.1 L543.2,418.4 L544.2,418.7 L545.1,419.0 L546.0,419.4 L546.8,419.8 L547.6,420.2 L548.3,420.6 L548.9,421.1 L549.4,421.5 L549.9,422.0 L550.3,422.5 L550.6,423.0 L550.8,423.5 L551.0,424.0 L551.0,424.5 L551.0,425.0 L550.9,425.5 L550.8,426.0 L550.5,426.5 L550.2,427.0 L549.8,427.5 L549.3,427.9 L548.8,428.4 L548.2,428.8 L547.6,429.2 L546.9,429.5 L546.1,429.9 L545.3,430.2 L544.4,430.5 L543.5,430.8 L542.6,431.0 L541.6,431.2 L540.6,431.4 L539.6,431.5 L538.5,431.6 L537.4,431.7 L536.3,431.8 L535.3,431.8 L534.2,431.8 L533.1,431.7 L532.0,431.6 L530.9,431.5 L529.9,431.4 L528.8,431.2 L527.8,431.0 L526.9,430.8 L525.9,430.5 L525.0,430.2 L524.2,429.9 L523.3,429.5 L522.6,429.2 L521.9,428.8 L521.2,428.4 L520.6,427.9 L520.1,427.5 L519.6,427.0 L519.3,426.5 L518.9,426.1 L518.7,425.6 L518.5,425.1 L518.5,424.5 L518.5,424.0 L518.5,423.5 L518.7,423.0 L518.9,422.5 L519.2,422.0 L519.6,421.5 L520.1,421.1 L520.6,420.6 L521.3,420.2 L522.0,419.8 L522.7,419.4 L523.5,419.0 L524.4,418.7 L525.4,418.4 L526.3,418.1 L527.4,417.9 L528.4,417.7 L529.6,417.5 L530.7,417.4 L531.8,417.3 L533.0,417.2Z" fill="none" stroke="#32b37b" stroke-width="0.7" clip-path="url(#ccd)"/>
<path d="M534.1,417.9 L535.2,417.9 L536.3,418.0 L537.3,418.1 L538.4,418.2 L539.4,418.3 L540.4,418.5 L541.4,418.7 L542.3,419.0 L543.2,419.3 L544.1,419.6 L544.9,419.9 L545.6,420.2 L546.3,420.6 L546.9,421.0 L547.5,421.4 L548.0,421.8 L548.4,422.3 L548.7,422.7 L549.0,423.2 L549.2,423.6 L549.4,424.1 L549.4,424.6 L549.4,425.0 L549.4,425.5 L549.2,425.9 L549.0,426.4 L548.7,426.8 L548.4,427.2 L547.9,427.6 L547.5,428.0 L546.9,428.4 L546.3,428.8 L545.7,429.1 L545.0,429.4 L544.2,429.7 L543.5,430.0 L542.6,430.2 L541.8,430.5 L540.9,430.6 L540.0,430.8 L539.0,430.9 L538.1,431.0 L537.1,431.1 L536.1,431.2 L535.1,431.2 L534.1,431.2 L533.1,431.1 L532.1,431.0 L531.1,430.9 L530.2,430.8 L529.2,430.6 L528.3,430.5 L527.4,430.2 L526.6,430.0 L525.8,429.7 L525.0,429.4 L524.2,429.1 L523.5,428.8 L522.9,428.4 L522.3,428.1 L521.8,427.7 L521.3,427.2 L520.9,426.8 L520.5,426.4 L520.2,425.9 L520.0,425.5 L519.9,425.0 L519.8,424.6 L519.8,424.1 L519.9,423.6 L520.0,423.2 L520.2,422.7 L520.5,422.3 L520.9,421.8 L521.3,421.4 L521.8,421.0 L522.4,420.6 L523.0,420.2 L523.7,419.9 L524.5,419.6 L525.3,419.3 L526.1,419.0 L527.0,418.7 L527.9,418.5 L528.9,418.3 L529.9,418.2 L530.9,418.1 L532.0,418.0 L533.1,417.9Z" fill="none" stroke="#46be6f" stroke-width="0.7" clip-path="url(#ccd)"/>
<path d="M534.1,418.6 L535.0,418.6 L536.0,418.7 L536.9,418.8 L537.9,418.9 L538.8,419.0 L539.7,419.2 L540.6,419.4 L541.4,419.6 L542.2,419.8 L543.0,420.1 L543.7,420.4 L544.3,420.7 L545.0,421.0 L545.5,421.4 L546.0,421.8 L546.5,422.1 L546.9,422.5 L547.2,422.9 L547.4,423.3 L547.6,423.7 L547.8,424.2 L547.8,424.6 L547.8,425.0 L547.8,425.4 L547.6,425.8 L547.4,426.2 L547.2,426.6 L546.9,427.0 L546.5,427.4 L546.1,427.7 L545.6,428.1 L545.1,428.4 L544.5,428.7 L543.9,429.0 L543.2,429.2 L542.5,429.5 L541.7,429.7 L541.0,429.9 L540.2,430.1 L539.3,430.2 L538.5,430.3 L537.6,430.4 L536.7,430.5 L535.8,430.5 L535.0,430.6 L534.1,430.5 L533.2,430.5 L532.3,430.4 L531.4,430.3 L530.5,430.2 L529.7,430.1 L528.8,429.9 L528.0,429.7 L527.3,429.5 L526.5,429.2 L525.8,429.0 L525.2,428.7 L524.5,428.4 L524.0,428.1 L523.4,427.7 L522.9,427.4 L522.5,427.0 L522.2,426.6 L521.8,426.2 L521.6,425.8 L521.4,425.4 L521.3,425.0 L521.2,424.6 L521.2,424.2 L521.3,423.8 L521.4,423.3 L521.6,422.9 L521.9,422.5 L522.2,422.2 L522.6,421.8 L523.0,421.4 L523.6,421.1 L524.1,420.7 L524.7,420.4 L525.4,420.1 L526.1,419.8 L526.9,419.6 L527.7,419.4 L528.5,419.2 L529.4,419.0 L530.3,418.9 L531.2,418.8 L532.2,418.7 L533.1,418.6Z" fill="none" stroke="#5fc761" stroke-width="0.7" clip-path="url(#ccd)"/>
<path d="M534.0,419.4 L534.9,419.4 L535.7,419.4 L536.5,419.5 L537.4,419.6 L538.2,419.7 L539.0,419.9 L539.7,420.0 L540.5,420.2 L541.2,420.4 L541.8,420.7 L542.5,420.9 L543.0,421.2 L543.6,421.5 L544.1,421.8 L544.5,422.1 L544.9,422.5 L545.3,422.8 L545.5,423.2 L545.8,423.5 L546.0,423.9 L546.1,424.2 L546.1,424.6 L546.1,425.0 L546.1,425.3 L546.0,425.7 L545.8,426.0 L545.6,426.4 L545.3,426.7 L545.0,427.1 L544.6,427.4 L544.2,427.7 L543.7,428.0 L543.2,428.2 L542.7,428.5 L542.1,428.7 L541.5,428.9 L540.8,429.1 L540.1,429.3 L539.4,429.5 L538.7,429.6 L537.9,429.7 L537.2,429.8 L536.4,429.8 L535.6,429.9 L534.8,429.9 L534.0,429.9 L533.2,429.8 L532.4,429.8 L531.7,429.7 L530.9,429.6 L530.1,429.5 L529.4,429.3 L528.7,429.1 L528.0,428.9 L527.4,428.7 L526.7,428.5 L526.2,428.2 L525.6,428.0 L525.1,427.7 L524.6,427.4 L524.2,427.1 L523.8,426.7 L523.5,426.4 L523.2,426.1 L523.0,425.7 L522.9,425.3 L522.8,425.0 L522.7,424.6 L522.7,424.2 L522.8,423.9 L522.9,423.5 L523.1,423.2 L523.3,422.8 L523.6,422.5 L523.9,422.1 L524.3,421.8 L524.8,421.5 L525.3,421.2 L525.8,420.9 L526.4,420.7 L527.1,420.5 L527.7,420.2 L528.4,420.0 L529.2,419.9 L529.9,419.7 L530.7,419.6 L531.5,419.5 L532.4,419.4 L533.2,419.4Z" fill="none" stroke="#7bd050" stroke-width="0.7" clip-path="url(#ccd)"/>
<path d="M534.0,420.2 L534.7,420.2 L535.4,420.2 L536.1,420.3 L536.8,420.4 L537.5,420.5 L538.2,420.6 L538.8,420.8 L539.5,420.9 L540.1,421.1 L540.6,421.3 L541.2,421.5 L541.7,421.7 L542.1,422.0 L542.5,422.3 L542.9,422.5 L543.3,422.8 L543.6,423.1 L543.8,423.4 L544.0,423.7 L544.2,424.0 L544.3,424.3 L544.3,424.6 L544.3,424.9 L544.3,425.3 L544.2,425.6 L544.1,425.9 L543.9,426.2 L543.6,426.5 L543.4,426.7 L543.0,427.0 L542.7,427.3 L542.3,427.5 L541.9,427.7 L541.4,428.0 L540.9,428.2 L540.4,428.3 L539.8,428.5 L539.2,428.7 L538.6,428.8 L538.0,428.9 L537.3,429.0 L536.7,429.1 L536.0,429.1 L535.3,429.1 L534.7,429.2 L534.0,429.1 L533.3,429.1 L532.6,429.1 L532.0,429.0 L531.3,428.9 L530.7,428.8 L530.0,428.7 L529.4,428.5 L528.8,428.3 L528.3,428.2 L527.8,428.0 L527.3,427.7 L526.8,427.5 L526.4,427.3 L526.0,427.0 L525.6,426.7 L525.3,426.5 L525.0,426.2 L524.8,425.9 L524.6,425.6 L524.5,425.3 L524.4,425.0 L524.3,424.6 L524.3,424.3 L524.4,424.0 L524.5,423.7 L524.7,423.4 L524.9,423.1 L525.1,422.8 L525.4,422.5 L525.7,422.3 L526.1,422.0 L526.6,421.8 L527.0,421.5 L527.5,421.3 L528.1,421.1 L528.6,420.9 L529.2,420.8 L529.9,420.6 L530.5,420.5 L531.2,420.4 L531.9,420.3 L532.6,420.2 L533.3,420.2Z" fill="none" stroke="#afe063" stroke-width="0.7" clip-path="url(#ccd)"/>
<path d="M534.0,421.1 L534.5,421.1 L535.1,421.2 L535.7,421.2 L536.2,421.3 L536.8,421.3 L537.3,421.4 L537.8,421.6 L538.3,421.7 L538.8,421.8 L539.3,422.0 L539.7,422.2 L540.1,422.3 L540.5,422.5 L540.8,422.8 L541.1,423.0 L541.4,423.2 L541.7,423.4 L541.9,423.7 L542.0,423.9 L542.1,424.2 L542.2,424.4 L542.3,424.7 L542.3,424.9 L542.3,425.2 L542.2,425.4 L542.1,425.7 L541.9,425.9 L541.7,426.1 L541.5,426.4 L541.3,426.6 L541.0,426.8 L540.7,427.0 L540.3,427.2 L539.9,427.3 L539.5,427.5 L539.1,427.7 L538.7,427.8 L538.2,427.9 L537.7,428.0 L537.2,428.1 L536.7,428.2 L536.1,428.2 L535.6,428.3 L535.1,428.3 L534.5,428.3 L534.0,428.3 L533.4,428.3 L532.9,428.2 L532.3,428.2 L531.8,428.1 L531.3,428.0 L530.8,427.9 L530.3,427.8 L529.8,427.7 L529.4,427.5 L528.9,427.4 L528.5,427.2 L528.1,427.0 L527.8,426.8 L527.5,426.6 L527.2,426.4 L526.9,426.1 L526.7,425.9 L526.5,425.7 L526.4,425.4 L526.3,425.2 L526.2,424.9 L526.2,424.7 L526.2,424.4 L526.2,424.2 L526.3,423.9 L526.5,423.7 L526.6,423.4 L526.8,423.2 L527.1,423.0 L527.3,422.8 L527.7,422.6 L528.0,422.4 L528.4,422.2 L528.8,422.0 L529.2,421.8 L529.7,421.7 L530.2,421.6 L530.7,421.4 L531.2,421.3 L531.7,421.3 L532.3,421.2 L532.8,421.2 L533.4,421.1Z" fill="none" stroke="#d6ec80" stroke-width="0.7" clip-path="url(#ccd)"/>
<path d="M534.0,422.2 L534.4,422.3 L534.8,422.3 L535.2,422.3 L535.5,422.3 L535.9,422.4 L536.3,422.5 L536.7,422.5 L537.0,422.6 L537.3,422.7 L537.7,422.8 L538.0,423.0 L538.2,423.1 L538.5,423.2 L538.7,423.4 L539.0,423.5 L539.2,423.7 L539.3,423.8 L539.5,424.0 L539.6,424.2 L539.7,424.4 L539.7,424.5 L539.8,424.7 L539.8,424.9 L539.8,425.1 L539.7,425.2 L539.6,425.4 L539.5,425.6 L539.4,425.7 L539.3,425.9 L539.1,426.0 L538.9,426.2 L538.7,426.3 L538.4,426.5 L538.2,426.6 L537.9,426.7 L537.6,426.8 L537.3,426.9 L536.9,427.0 L536.6,427.1 L536.2,427.1 L535.9,427.2 L535.5,427.2 L535.1,427.2 L534.7,427.3 L534.3,427.3 L534.0,427.3 L533.6,427.2 L533.2,427.2 L532.8,427.2 L532.4,427.1 L532.1,427.1 L531.7,427.0 L531.4,426.9 L531.1,426.8 L530.7,426.7 L530.4,426.6 L530.2,426.5 L529.9,426.3 L529.6,426.2 L529.4,426.0 L529.2,425.9 L529.1,425.7 L528.9,425.6 L528.8,425.4 L528.7,425.2 L528.6,425.1 L528.6,424.9 L528.5,424.7 L528.5,424.5 L528.6,424.4 L528.6,424.2 L528.7,424.0 L528.9,423.9 L529.0,423.7 L529.2,423.5 L529.4,423.4 L529.6,423.2 L529.8,423.1 L530.1,423.0 L530.4,422.8 L530.7,422.7 L531.0,422.6 L531.3,422.5 L531.7,422.5 L532.0,422.4 L532.4,422.3 L532.8,422.3 L533.2,422.3 L533.6,422.3Z" fill="none" stroke="#f1f4a9" stroke-width="0.7" clip-path="url(#ccd)"/>
<linearGradient id="bgd" gradientUnits="userSpaceOnUse" x1="0" y1="429.7" x2="0" y2="595"><stop offset="0.000" stop-color="#dce328"/><stop offset="0.100" stop-color="#9ed93a"/><stop offset="0.200" stop-color="#64c95e"/><stop offset="0.300" stop-color="#35b779"/><stop offset="0.400" stop-color="#22a187"/><stop offset="0.500" stop-color="#248a8d"/><stop offset="0.600" stop-color="#2c738e"/><stop offset="0.700" stop-color="#375b8c"/><stop offset="0.800" stop-color="#414084"/><stop offset="0.850" stop-color="#492c7b"/><stop offset="0.900" stop-color="#4e1c73"/><stop offset="0.950" stop-color="#52136f"/><stop offset="1.000" stop-color="#581474"/></linearGradient>
<path d="M468.1,594.3 L478.0,592.3 L482.5,590.2 L485.6,588.2 L488.0,586.1 L490.0,584.0 L491.7,582.0 L493.1,579.9 L494.5,577.9 L495.7,575.8 L496.8,573.8 L497.8,571.7 L498.7,569.6 L499.6,567.6 L500.4,565.5 L501.2,563.5 L501.9,561.4 L502.6,559.4 L503.3,557.3 L503.9,555.2 L504.5,553.2 L505.1,551.1 L505.7,549.1 L506.2,547.0 L506.7,544.9 L507.2,542.9 L507.7,540.8 L508.2,538.8 L508.7,536.7 L509.1,534.7 L509.6,532.6 L510.0,530.5 L510.5,528.5 L510.9,526.4 L511.3,524.4 L511.7,522.3 L512.1,520.3 L512.5,518.2 L512.9,516.1 L513.3,514.1 L513.7,512.0 L514.1,510.0 L514.4,507.9 L514.8,505.8 L515.2,503.8 L515.6,501.7 L515.9,499.7 L516.3,497.6 L516.7,495.6 L517.0,493.5 L517.4,491.4 L517.8,489.4 L518.1,487.3 L518.5,485.3 L518.9,483.2 L519.3,481.1 L519.6,479.1 L520.0,477.0 L520.4,475.0 L520.8,472.9 L521.2,470.9 L521.5,468.8 L521.9,466.7 L522.3,464.7 L522.7,462.6 L523.1,460.6 L523.6,458.5 L524.0,456.5 L524.4,454.4 L524.9,452.3 L525.3,450.3 L525.8,448.2 L526.3,446.2 L526.8,444.1 L527.3,442.0 L527.9,440.0 L528.5,437.9 L529.2,435.9 L530.0,433.8 L531.0,431.8 L533.5,429.7 L533.5,429.7 L536.1,431.8 L537.2,433.8 L538.1,435.9 L538.9,437.9 L539.6,440.0 L540.3,442.0 L541.0,444.1 L541.6,446.2 L542.2,448.2 L542.7,450.3 L543.3,452.3 L543.9,454.4 L544.4,456.5 L544.9,458.5 L545.5,460.6 L546.0,462.6 L546.5,464.7 L547.0,466.7 L547.5,468.8 L548.0,470.9 L548.5,472.9 L549.0,475.0 L549.5,477.0 L549.9,479.1 L550.4,481.1 L550.9,483.2 L551.4,485.3 L551.9,487.3 L552.3,489.4 L552.8,491.4 L553.3,493.5 L553.8,495.6 L554.2,497.6 L554.7,499.7 L555.2,501.7 L555.7,503.8 L556.2,505.8 L556.6,507.9 L557.1,510.0 L557.6,512.0 L558.1,514.1 L558.6,516.1 L559.1,518.2 L559.6,520.3 L560.1,522.3 L560.6,524.4 L561.1,526.4 L561.7,528.5 L562.2,530.5 L562.8,532.6 L563.3,534.7 L563.9,536.7 L564.5,538.8 L565.0,540.8 L565.6,542.9 L566.3,544.9 L566.9,547.0 L567.5,549.1 L568.2,551.1 L568.9,553.2 L569.6,555.2 L570.4,557.3 L571.1,559.4 L571.9,561.4 L572.8,563.5 L573.7,565.5 L574.6,567.6 L575.6,569.6 L576.6,571.7 L577.7,573.8 L578.9,575.8 L580.2,577.9 L581.7,579.9 L583.3,582.0 L585.1,584.0 L587.1,586.1 L589.6,588.2 L592.8,590.2 L597.5,592.3 L607.4,594.3 Z" fill="url(#bgd)"/>
<path d="M427,594.7 L478,594.6 L490,594.9 L585,594.9 L598,594.6 L633,594.7 L633,595.7 L598,596 L585,597 L490,597 L478,596 L427,595.7 Z" fill="#3c0c52"/>
<text transform="translate(418.0,599.0) rotate(0.04) scale(1.05,1)" font-family="Liberation Sans" font-size="10.5" text-anchor="middle" fill="#444" >0</text>
<text transform="translate(420.5,429.0) rotate(50) scale(1.05,1)" font-family="Liberation Sans" font-size="10.5" text-anchor="middle" fill="#444" >0.2</text>
<text transform="translate(418.5,510.0) rotate(50) scale(1.05,1)" font-family="Liberation Sans" font-size="10.5" text-anchor="middle" fill="#444" >0.1</text>
<text transform="translate(424.7,621.0) rotate(-75) scale(1.05,1)" font-family="Liberation Sans" font-size="10.5" text-anchor="middle" fill="#444" >5</text>
<text transform="translate(429.7,621.0) rotate(-75) scale(1.05,1)" font-family="Liberation Sans" font-size="10.5" text-anchor="middle" fill="#444" >4</text>
<text transform="translate(435.7,621.0) rotate(-75) scale(1.05,1)" font-family="Liberation Sans" font-size="10.5" text-anchor="middle" fill="#444" >3</text>
<text transform="translate(441.7,621.0) rotate(-75) scale(1.05,1)" font-family="Liberation Sans" font-size="10.5" text-anchor="middle" fill="#444" >2</text>
<text transform="translate(447.7,621.0) rotate(-75) scale(1.05,1)" font-family="Liberation Sans" font-size="10.5" text-anchor="middle" fill="#444" >1</text>
<text transform="translate(453.7,621.0) rotate(-75) scale(1.05,1)" font-family="Liberation Sans" font-size="10.5" text-anchor="middle" fill="#444" >0</text>
<text transform="translate(459.7,621.0) rotate(-75) scale(1.05,1)" font-family="Liberation Sans" font-size="10.5" text-anchor="middle" fill="#444" >−1</text>
<text transform="translate(458.1,615.3) rotate(90) scale(1.05,1)" font-family="Liberation Sans" font-size="11" text-anchor="middle" fill="#444" >−2</text>
<text transform="translate(480.1,615.3) rotate(90) scale(1.05,1)" font-family="Liberation Sans" font-size="11" text-anchor="middle" fill="#444" >−1</text>
<text transform="translate(504.4,615.3) rotate(90) scale(1.05,1)" font-family="Liberation Sans" font-size="11" text-anchor="middle" fill="#444" >0</text>
<text transform="translate(528.4,615.3) rotate(90) scale(1.05,1)" font-family="Liberation Sans" font-size="11" text-anchor="middle" fill="#444" >1</text>
<text transform="translate(552.6,615.3) rotate(90) scale(1.05,1)" font-family="Liberation Sans" font-size="11" text-anchor="middle" fill="#444" >2</text>
<text transform="translate(577.8,615.3) rotate(90) scale(1.05,1)" font-family="Liberation Sans" font-size="11" text-anchor="middle" fill="#444" >3</text>
<text transform="translate(603.1,615.3) rotate(90) scale(1.05,1)" font-family="Liberation Sans" font-size="11" text-anchor="middle" fill="#444" >4</text>
<text transform="translate(533.0,645.0) rotate(0.04)" font-family="Liberation Sans" font-size="12.5" text-anchor="middle" fill="#444" >Max filler strength</text>
<text transform="translate(417.0,483.5) rotate(-90)" font-family="Liberation Sans" font-size="12.2" text-anchor="middle" fill="#444" >Probability density</text>
<rect x="6" y="649.4" width="679" height="1.6" fill="#f1f1f1"/>
</svg></body></html>
